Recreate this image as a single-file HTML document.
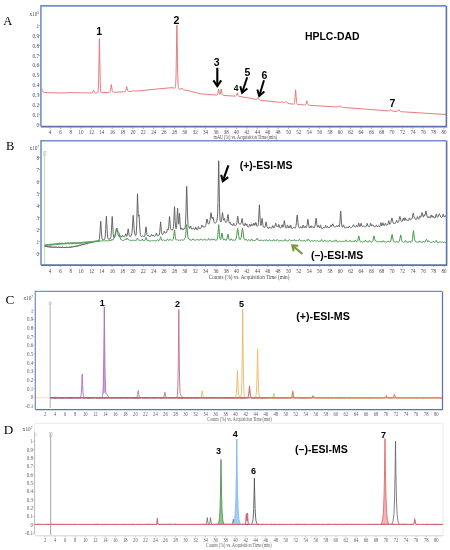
<!DOCTYPE html>
<html><head><meta charset="utf-8"><style>
html,body{margin:0;padding:0;background:#fff;}
body{width:450px;height:550px;overflow:hidden;font-family:"Liberation Sans",sans-serif;}
svg{display:block;filter:blur(0.3px);}
</style></head><body>
<svg width="450" height="550" viewBox="0 0 450 550">
<rect width="450" height="550" fill="#fff"/>
<text x="3.3" y="24.6" font-family="'Liberation Serif', serif" font-size="12.5" font-weight="normal" fill="#000" text-anchor="start">A</text>
<text x="39" y="15.6" font-family="'Liberation Serif', serif" font-size="5.2" fill="#4a4a4a" text-anchor="end">x10<tspan dy="-2" font-size="3.5">3</tspan></text>
<text x="39.1" y="27.9" font-family="'Liberation Serif', serif" font-size="5.8" font-weight="normal" fill="#4a4a4a" text-anchor="end" textLength="2.65" lengthAdjust="spacingAndGlyphs">1</text>
<line x1="38.8" y1="25.7" x2="40" y2="25.7" stroke="#888" stroke-width="0.6"/>
<text x="39.1" y="37.78" font-family="'Liberation Serif', serif" font-size="5.8" font-weight="normal" fill="#4a4a4a" text-anchor="end" textLength="6.62" lengthAdjust="spacingAndGlyphs">0.9</text>
<line x1="38.8" y1="35.6" x2="40" y2="35.6" stroke="#888" stroke-width="0.6"/>
<text x="39.1" y="47.66" font-family="'Liberation Serif', serif" font-size="5.8" font-weight="normal" fill="#4a4a4a" text-anchor="end" textLength="6.62" lengthAdjust="spacingAndGlyphs">0.8</text>
<line x1="38.8" y1="45.5" x2="40" y2="45.5" stroke="#888" stroke-width="0.6"/>
<text x="39.1" y="57.54" font-family="'Liberation Serif', serif" font-size="5.8" font-weight="normal" fill="#4a4a4a" text-anchor="end" textLength="6.62" lengthAdjust="spacingAndGlyphs">0.7</text>
<line x1="38.8" y1="55.3" x2="40" y2="55.3" stroke="#888" stroke-width="0.6"/>
<text x="39.1" y="67.42" font-family="'Liberation Serif', serif" font-size="5.8" font-weight="normal" fill="#4a4a4a" text-anchor="end" textLength="6.62" lengthAdjust="spacingAndGlyphs">0.6</text>
<line x1="38.8" y1="65.2" x2="40" y2="65.2" stroke="#888" stroke-width="0.6"/>
<text x="39.1" y="77.3" font-family="'Liberation Serif', serif" font-size="5.8" font-weight="normal" fill="#4a4a4a" text-anchor="end" textLength="6.62" lengthAdjust="spacingAndGlyphs">0.5</text>
<line x1="38.8" y1="75.1" x2="40" y2="75.1" stroke="#888" stroke-width="0.6"/>
<text x="39.1" y="87.18" font-family="'Liberation Serif', serif" font-size="5.8" font-weight="normal" fill="#4a4a4a" text-anchor="end" textLength="6.62" lengthAdjust="spacingAndGlyphs">0.4</text>
<line x1="38.8" y1="85.0" x2="40" y2="85.0" stroke="#888" stroke-width="0.6"/>
<text x="39.1" y="97.06" font-family="'Liberation Serif', serif" font-size="5.8" font-weight="normal" fill="#4a4a4a" text-anchor="end" textLength="6.62" lengthAdjust="spacingAndGlyphs">0.3</text>
<line x1="38.8" y1="94.9" x2="40" y2="94.9" stroke="#888" stroke-width="0.6"/>
<text x="39.1" y="106.94" font-family="'Liberation Serif', serif" font-size="5.8" font-weight="normal" fill="#4a4a4a" text-anchor="end" textLength="6.62" lengthAdjust="spacingAndGlyphs">0.2</text>
<line x1="38.8" y1="104.7" x2="40" y2="104.7" stroke="#888" stroke-width="0.6"/>
<text x="39.1" y="116.82" font-family="'Liberation Serif', serif" font-size="5.8" font-weight="normal" fill="#4a4a4a" text-anchor="end" textLength="6.62" lengthAdjust="spacingAndGlyphs">0.1</text>
<line x1="38.8" y1="114.6" x2="40" y2="114.6" stroke="#888" stroke-width="0.6"/>
<text x="39.1" y="126.7" font-family="'Liberation Serif', serif" font-size="5.8" font-weight="normal" fill="#4a4a4a" text-anchor="end" textLength="2.65" lengthAdjust="spacingAndGlyphs">0</text>
<line x1="38.8" y1="124.5" x2="40" y2="124.5" stroke="#888" stroke-width="0.6"/>
<text x="50.0" y="134.3" font-family="'Liberation Serif', serif" font-size="6.6" font-weight="normal" fill="#4a4a4a" text-anchor="middle" textLength="2.50" lengthAdjust="spacingAndGlyphs">4</text>
<line x1="50.0" y1="127.5" x2="50.0" y2="129" stroke="#888" stroke-width="0.6"/>
<text x="60.4" y="134.3" font-family="'Liberation Serif', serif" font-size="6.6" font-weight="normal" fill="#4a4a4a" text-anchor="middle" textLength="2.50" lengthAdjust="spacingAndGlyphs">6</text>
<line x1="60.4" y1="127.5" x2="60.4" y2="129" stroke="#888" stroke-width="0.6"/>
<text x="70.7" y="134.3" font-family="'Liberation Serif', serif" font-size="6.6" font-weight="normal" fill="#4a4a4a" text-anchor="middle" textLength="2.50" lengthAdjust="spacingAndGlyphs">8</text>
<line x1="70.7" y1="127.5" x2="70.7" y2="129" stroke="#888" stroke-width="0.6"/>
<text x="81.1" y="134.3" font-family="'Liberation Serif', serif" font-size="6.6" font-weight="normal" fill="#4a4a4a" text-anchor="middle" textLength="5.00" lengthAdjust="spacingAndGlyphs">10</text>
<line x1="81.1" y1="127.5" x2="81.1" y2="129" stroke="#888" stroke-width="0.6"/>
<text x="91.5" y="134.3" font-family="'Liberation Serif', serif" font-size="6.6" font-weight="normal" fill="#4a4a4a" text-anchor="middle" textLength="5.00" lengthAdjust="spacingAndGlyphs">12</text>
<line x1="91.5" y1="127.5" x2="91.5" y2="129" stroke="#888" stroke-width="0.6"/>
<text x="101.8" y="134.3" font-family="'Liberation Serif', serif" font-size="6.6" font-weight="normal" fill="#4a4a4a" text-anchor="middle" textLength="5.00" lengthAdjust="spacingAndGlyphs">14</text>
<line x1="101.8" y1="127.5" x2="101.8" y2="129" stroke="#888" stroke-width="0.6"/>
<text x="112.2" y="134.3" font-family="'Liberation Serif', serif" font-size="6.6" font-weight="normal" fill="#4a4a4a" text-anchor="middle" textLength="5.00" lengthAdjust="spacingAndGlyphs">16</text>
<line x1="112.2" y1="127.5" x2="112.2" y2="129" stroke="#888" stroke-width="0.6"/>
<text x="122.6" y="134.3" font-family="'Liberation Serif', serif" font-size="6.6" font-weight="normal" fill="#4a4a4a" text-anchor="middle" textLength="5.00" lengthAdjust="spacingAndGlyphs">18</text>
<line x1="122.6" y1="127.5" x2="122.6" y2="129" stroke="#888" stroke-width="0.6"/>
<text x="132.9" y="134.3" font-family="'Liberation Serif', serif" font-size="6.6" font-weight="normal" fill="#4a4a4a" text-anchor="middle" textLength="5.00" lengthAdjust="spacingAndGlyphs">20</text>
<line x1="132.9" y1="127.5" x2="132.9" y2="129" stroke="#888" stroke-width="0.6"/>
<text x="143.3" y="134.3" font-family="'Liberation Serif', serif" font-size="6.6" font-weight="normal" fill="#4a4a4a" text-anchor="middle" textLength="5.00" lengthAdjust="spacingAndGlyphs">22</text>
<line x1="143.3" y1="127.5" x2="143.3" y2="129" stroke="#888" stroke-width="0.6"/>
<text x="153.7" y="134.3" font-family="'Liberation Serif', serif" font-size="6.6" font-weight="normal" fill="#4a4a4a" text-anchor="middle" textLength="5.00" lengthAdjust="spacingAndGlyphs">24</text>
<line x1="153.7" y1="127.5" x2="153.7" y2="129" stroke="#888" stroke-width="0.6"/>
<text x="164.0" y="134.3" font-family="'Liberation Serif', serif" font-size="6.6" font-weight="normal" fill="#4a4a4a" text-anchor="middle" textLength="5.00" lengthAdjust="spacingAndGlyphs">26</text>
<line x1="164.0" y1="127.5" x2="164.0" y2="129" stroke="#888" stroke-width="0.6"/>
<text x="174.4" y="134.3" font-family="'Liberation Serif', serif" font-size="6.6" font-weight="normal" fill="#4a4a4a" text-anchor="middle" textLength="5.00" lengthAdjust="spacingAndGlyphs">28</text>
<line x1="174.4" y1="127.5" x2="174.4" y2="129" stroke="#888" stroke-width="0.6"/>
<text x="184.8" y="134.3" font-family="'Liberation Serif', serif" font-size="6.6" font-weight="normal" fill="#4a4a4a" text-anchor="middle" textLength="5.00" lengthAdjust="spacingAndGlyphs">30</text>
<line x1="184.8" y1="127.5" x2="184.8" y2="129" stroke="#888" stroke-width="0.6"/>
<text x="195.2" y="134.3" font-family="'Liberation Serif', serif" font-size="6.6" font-weight="normal" fill="#4a4a4a" text-anchor="middle" textLength="5.00" lengthAdjust="spacingAndGlyphs">32</text>
<line x1="195.2" y1="127.5" x2="195.2" y2="129" stroke="#888" stroke-width="0.6"/>
<text x="205.5" y="134.3" font-family="'Liberation Serif', serif" font-size="6.6" font-weight="normal" fill="#4a4a4a" text-anchor="middle" textLength="5.00" lengthAdjust="spacingAndGlyphs">34</text>
<line x1="205.5" y1="127.5" x2="205.5" y2="129" stroke="#888" stroke-width="0.6"/>
<text x="215.9" y="134.3" font-family="'Liberation Serif', serif" font-size="6.6" font-weight="normal" fill="#4a4a4a" text-anchor="middle" textLength="5.00" lengthAdjust="spacingAndGlyphs">36</text>
<line x1="215.9" y1="127.5" x2="215.9" y2="129" stroke="#888" stroke-width="0.6"/>
<text x="226.3" y="134.3" font-family="'Liberation Serif', serif" font-size="6.6" font-weight="normal" fill="#4a4a4a" text-anchor="middle" textLength="5.00" lengthAdjust="spacingAndGlyphs">38</text>
<line x1="226.3" y1="127.5" x2="226.3" y2="129" stroke="#888" stroke-width="0.6"/>
<text x="236.6" y="134.3" font-family="'Liberation Serif', serif" font-size="6.6" font-weight="normal" fill="#4a4a4a" text-anchor="middle" textLength="5.00" lengthAdjust="spacingAndGlyphs">40</text>
<line x1="236.6" y1="127.5" x2="236.6" y2="129" stroke="#888" stroke-width="0.6"/>
<text x="247.0" y="134.3" font-family="'Liberation Serif', serif" font-size="6.6" font-weight="normal" fill="#4a4a4a" text-anchor="middle" textLength="5.00" lengthAdjust="spacingAndGlyphs">42</text>
<line x1="247.0" y1="127.5" x2="247.0" y2="129" stroke="#888" stroke-width="0.6"/>
<text x="257.4" y="134.3" font-family="'Liberation Serif', serif" font-size="6.6" font-weight="normal" fill="#4a4a4a" text-anchor="middle" textLength="5.00" lengthAdjust="spacingAndGlyphs">44</text>
<line x1="257.4" y1="127.5" x2="257.4" y2="129" stroke="#888" stroke-width="0.6"/>
<text x="267.7" y="134.3" font-family="'Liberation Serif', serif" font-size="6.6" font-weight="normal" fill="#4a4a4a" text-anchor="middle" textLength="5.00" lengthAdjust="spacingAndGlyphs">46</text>
<line x1="267.7" y1="127.5" x2="267.7" y2="129" stroke="#888" stroke-width="0.6"/>
<text x="278.1" y="134.3" font-family="'Liberation Serif', serif" font-size="6.6" font-weight="normal" fill="#4a4a4a" text-anchor="middle" textLength="5.00" lengthAdjust="spacingAndGlyphs">48</text>
<line x1="278.1" y1="127.5" x2="278.1" y2="129" stroke="#888" stroke-width="0.6"/>
<text x="288.5" y="134.3" font-family="'Liberation Serif', serif" font-size="6.6" font-weight="normal" fill="#4a4a4a" text-anchor="middle" textLength="5.00" lengthAdjust="spacingAndGlyphs">50</text>
<line x1="288.5" y1="127.5" x2="288.5" y2="129" stroke="#888" stroke-width="0.6"/>
<text x="298.8" y="134.3" font-family="'Liberation Serif', serif" font-size="6.6" font-weight="normal" fill="#4a4a4a" text-anchor="middle" textLength="5.00" lengthAdjust="spacingAndGlyphs">52</text>
<line x1="298.8" y1="127.5" x2="298.8" y2="129" stroke="#888" stroke-width="0.6"/>
<text x="309.2" y="134.3" font-family="'Liberation Serif', serif" font-size="6.6" font-weight="normal" fill="#4a4a4a" text-anchor="middle" textLength="5.00" lengthAdjust="spacingAndGlyphs">54</text>
<line x1="309.2" y1="127.5" x2="309.2" y2="129" stroke="#888" stroke-width="0.6"/>
<text x="319.6" y="134.3" font-family="'Liberation Serif', serif" font-size="6.6" font-weight="normal" fill="#4a4a4a" text-anchor="middle" textLength="5.00" lengthAdjust="spacingAndGlyphs">56</text>
<line x1="319.6" y1="127.5" x2="319.6" y2="129" stroke="#888" stroke-width="0.6"/>
<text x="329.9" y="134.3" font-family="'Liberation Serif', serif" font-size="6.6" font-weight="normal" fill="#4a4a4a" text-anchor="middle" textLength="5.00" lengthAdjust="spacingAndGlyphs">58</text>
<line x1="329.9" y1="127.5" x2="329.9" y2="129" stroke="#888" stroke-width="0.6"/>
<text x="340.3" y="134.3" font-family="'Liberation Serif', serif" font-size="6.6" font-weight="normal" fill="#4a4a4a" text-anchor="middle" textLength="5.00" lengthAdjust="spacingAndGlyphs">60</text>
<line x1="340.3" y1="127.5" x2="340.3" y2="129" stroke="#888" stroke-width="0.6"/>
<text x="350.7" y="134.3" font-family="'Liberation Serif', serif" font-size="6.6" font-weight="normal" fill="#4a4a4a" text-anchor="middle" textLength="5.00" lengthAdjust="spacingAndGlyphs">62</text>
<line x1="350.7" y1="127.5" x2="350.7" y2="129" stroke="#888" stroke-width="0.6"/>
<text x="361.0" y="134.3" font-family="'Liberation Serif', serif" font-size="6.6" font-weight="normal" fill="#4a4a4a" text-anchor="middle" textLength="5.00" lengthAdjust="spacingAndGlyphs">64</text>
<line x1="361.0" y1="127.5" x2="361.0" y2="129" stroke="#888" stroke-width="0.6"/>
<text x="371.4" y="134.3" font-family="'Liberation Serif', serif" font-size="6.6" font-weight="normal" fill="#4a4a4a" text-anchor="middle" textLength="5.00" lengthAdjust="spacingAndGlyphs">66</text>
<line x1="371.4" y1="127.5" x2="371.4" y2="129" stroke="#888" stroke-width="0.6"/>
<text x="381.8" y="134.3" font-family="'Liberation Serif', serif" font-size="6.6" font-weight="normal" fill="#4a4a4a" text-anchor="middle" textLength="5.00" lengthAdjust="spacingAndGlyphs">68</text>
<line x1="381.8" y1="127.5" x2="381.8" y2="129" stroke="#888" stroke-width="0.6"/>
<text x="392.1" y="134.3" font-family="'Liberation Serif', serif" font-size="6.6" font-weight="normal" fill="#4a4a4a" text-anchor="middle" textLength="5.00" lengthAdjust="spacingAndGlyphs">70</text>
<line x1="392.1" y1="127.5" x2="392.1" y2="129" stroke="#888" stroke-width="0.6"/>
<text x="402.5" y="134.3" font-family="'Liberation Serif', serif" font-size="6.6" font-weight="normal" fill="#4a4a4a" text-anchor="middle" textLength="5.00" lengthAdjust="spacingAndGlyphs">72</text>
<line x1="402.5" y1="127.5" x2="402.5" y2="129" stroke="#888" stroke-width="0.6"/>
<text x="412.9" y="134.3" font-family="'Liberation Serif', serif" font-size="6.6" font-weight="normal" fill="#4a4a4a" text-anchor="middle" textLength="5.00" lengthAdjust="spacingAndGlyphs">74</text>
<line x1="412.9" y1="127.5" x2="412.9" y2="129" stroke="#888" stroke-width="0.6"/>
<text x="423.2" y="134.3" font-family="'Liberation Serif', serif" font-size="6.6" font-weight="normal" fill="#4a4a4a" text-anchor="middle" textLength="5.00" lengthAdjust="spacingAndGlyphs">76</text>
<line x1="423.2" y1="127.5" x2="423.2" y2="129" stroke="#888" stroke-width="0.6"/>
<text x="433.6" y="134.3" font-family="'Liberation Serif', serif" font-size="6.6" font-weight="normal" fill="#4a4a4a" text-anchor="middle" textLength="5.00" lengthAdjust="spacingAndGlyphs">78</text>
<line x1="433.6" y1="127.5" x2="433.6" y2="129" stroke="#888" stroke-width="0.6"/>
<text x="444.0" y="134.3" font-family="'Liberation Serif', serif" font-size="6.6" font-weight="normal" fill="#4a4a4a" text-anchor="middle" textLength="5.00" lengthAdjust="spacingAndGlyphs">80</text>
<line x1="444.0" y1="127.5" x2="444.0" y2="129" stroke="#888" stroke-width="0.6"/>
<text x="213.6" y="138.5" font-family="'Liberation Serif', serif" font-size="6.0" font-weight="normal" fill="#4a4a4a" text-anchor="start" textLength="63.4" lengthAdjust="spacingAndGlyphs">mAU (%) vs. Acquisition Time (min)</text>
<path d="M41.50,88.61 L41.60,88.50 L41.75,88.80 L42.25,90.56 L42.75,91.65 L43.25,92.06 L45,92.60 L60,93 L70,92.60 L90,93 L91.25,92.96 L92,92.83 L92.50,92.46 L93.60,90.20 L94.50,92.12 L95,92.65 L95.50,92.80 L96,92.81 L97,92.78 L97.50,92.65 L97.75,92.33 L98,91.43 L98.25,89.14 L98.50,84.05 L98.75,74.46 L99.40,38.50 L100.25,82.49 L100.50,88.33 L100.75,91.04 L101,92.12 L101.25,92.49 L101.50,92.60 L102,92.63 L108.50,92.40 L109.25,92.35 L109.75,92.15 L110,91.84 L110.25,91.22 L110.50,90.11 L111.30,84.50 L112.25,90.78 L112.50,91.56 L112.75,91.95 L113,92.13 L113.50,92.21 L120,92 L124.25,91.74 L125,91.62 L125.50,91.21 L125.75,90.68 L126.70,86.50 L127.50,90.10 L127.75,90.80 L128,91.19 L128.25,91.37 L128.75,91.46 L131.75,91.25 L132.50,91.03 L133.50,90.50 L134.50,90.91 L135.25,91.04 L140,90.80 L160,88.70 L172,87.70 L174.50,88.22 L175,88.11 L175.25,87.67 L175.50,86.40 L175.75,83.32 L176,76.87 L176.90,25.20 L177.50,62.65 L177.75,75.38 L178,82.83 L178.25,86.54 L178.50,88.16 L178.75,88.80 L179,89.04 L179.25,89.12 L180.25,89.10 L182,88.50 L183.50,89.54 L184.50,89.99 L190,91 L200,93.80 L216.50,95.07 L217,94.98 L217.25,94.79 L217.50,94.37 L217.75,93.60 L218.60,89 L219.50,93.80 L219.75,94.36 L220,94.42 L220.25,93.97 L220.50,92.97 L221.20,89 L222,93.59 L222.25,94.50 L222.50,95.01 L222.75,95.27 L223.25,95.44 L234.75,96.12 L235.75,96.08 L236.25,95.70 L236.50,95.23 L237.30,92.80 L238.25,95.67 L238.75,96.28 L239.25,96.47 L248,97.80 L255.50,99.40 L256,99.41 L256.50,99.27 L257,98.87 L257.75,97.95 L258,97.80 L259.50,99.76 L260,100.07 L260.50,100.23 L278.75,102.26 L280.50,102.31 L282,101.80 L283.25,102.57 L283.75,102.73 L284.25,102.71 L284.75,102.49 L285.75,101.44 L286,101.30 L286.25,101.51 L287.25,102.83 L288,103.34 L289.25,103.63 L293.50,104.16 L294,103.94 L294.25,103.49 L294.50,102.52 L294.75,100.70 L295.60,89.80 L296.50,101.28 L296.75,102.96 L297,103.85 L297.25,104.27 L297.75,104.54 L304.25,104.97 L305.25,104.89 L305.75,104.42 L306,103.88 L306.75,101.10 L306.90,100.80 L307.75,103.84 L308,104.47 L308.50,105.07 L309.25,105.28 L337,106.99 L337.75,106.96 L338.50,106.75 L340,105.80 L341.75,107.09 L342.50,107.33 L343.25,107.43 L388.25,110.86 L389,110.84 L389.50,110.70 L390.80,109.60 L391.75,110.60 L392.50,111.05 L393.25,111.19 L396,111.37 L397,111.33 L397.50,111.12 L398.80,109.60 L400,111.20 L400.50,111.52 L401.25,111.69 L446,114.50" fill="none" stroke="#e87474" stroke-width="0.95"/>
<path d="M446.4,5.9 L446.4,126.6 L40.9,126.6" fill="none" stroke="#5e72aa" stroke-width="1.6"/>
<path d="M40.9,126.6 L40.9,5.9 L446.4,5.9" fill="none" stroke="#7490cc" stroke-width="1.6"/>
<text x="99.1" y="34.6" font-family="'Liberation Sans', sans-serif" font-size="10.5" font-weight="bold" fill="#000" text-anchor="middle">1</text>
<text x="176.3" y="23.8" font-family="'Liberation Sans', sans-serif" font-size="10.5" font-weight="bold" fill="#000" text-anchor="middle">2</text>
<text x="216.7" y="65.8" font-family="'Liberation Sans', sans-serif" font-size="10.5" font-weight="bold" fill="#000" text-anchor="middle">3</text>
<text x="236.1" y="91.0" font-family="'Liberation Sans', sans-serif" font-size="8.5" font-weight="bold" fill="#000" text-anchor="middle">4</text>
<text x="247.4" y="76.2" font-family="'Liberation Sans', sans-serif" font-size="10.5" font-weight="bold" fill="#000" text-anchor="middle">5</text>
<text x="264.5" y="78.8" font-family="'Liberation Sans', sans-serif" font-size="10.5" font-weight="bold" fill="#000" text-anchor="middle">6</text>
<text x="392.4" y="106.8" font-family="'Liberation Sans', sans-serif" font-size="10.5" font-weight="bold" fill="#000" text-anchor="middle">7</text>
<line x1="217.30" y1="67.80" x2="217.30" y2="86.11" stroke="#000" stroke-width="2.1"/>
<path d="M213.40,80.40 L217.30,86.11 L221.20,80.40" fill="none" stroke="#000" stroke-width="2.1" stroke-linejoin="miter" stroke-miterlimit="10"/>
<line x1="247.20" y1="77.20" x2="242.06" y2="92.79" stroke="#000" stroke-width="2.0"/>
<path d="M240.33,86.22 L242.06,92.79 L247.36,88.53" fill="none" stroke="#000" stroke-width="2.0" stroke-linejoin="miter" stroke-miterlimit="10"/>
<line x1="264.00" y1="80.30" x2="259.22" y2="95.98" stroke="#000" stroke-width="2.0"/>
<path d="M257.35,89.45 L259.22,95.98 L264.42,91.60" fill="none" stroke="#000" stroke-width="2.0" stroke-linejoin="miter" stroke-miterlimit="10"/>
<text x="305.0" y="40.3" font-family="'Liberation Sans', sans-serif" font-size="11.8" font-weight="bold" fill="#000" text-anchor="start" textLength="54.5" lengthAdjust="spacingAndGlyphs">HPLC-DAD</text>
<text x="6.0" y="150.3" font-family="'Liberation Serif', serif" font-size="12.5" font-weight="normal" fill="#000" text-anchor="start">B</text>
<text x="39" y="150" font-family="'Liberation Serif', serif" font-size="5.2" fill="#4a4a4a" text-anchor="end">x10<tspan dy="-2" font-size="3.5">7</tspan></text>
<text x="39.1" y="159.7" font-family="'Liberation Serif', serif" font-size="5.8" font-weight="normal" fill="#4a4a4a" text-anchor="end" textLength="2.65" lengthAdjust="spacingAndGlyphs">8</text>
<line x1="38.8" y1="157.5" x2="40" y2="157.5" stroke="#888" stroke-width="0.6"/>
<text x="39.1" y="171.7" font-family="'Liberation Serif', serif" font-size="5.8" font-weight="normal" fill="#4a4a4a" text-anchor="end" textLength="2.65" lengthAdjust="spacingAndGlyphs">7</text>
<line x1="38.8" y1="169.5" x2="40" y2="169.5" stroke="#888" stroke-width="0.6"/>
<text x="39.1" y="183.7" font-family="'Liberation Serif', serif" font-size="5.8" font-weight="normal" fill="#4a4a4a" text-anchor="end" textLength="2.65" lengthAdjust="spacingAndGlyphs">6</text>
<line x1="38.8" y1="181.5" x2="40" y2="181.5" stroke="#888" stroke-width="0.6"/>
<text x="39.1" y="195.7" font-family="'Liberation Serif', serif" font-size="5.8" font-weight="normal" fill="#4a4a4a" text-anchor="end" textLength="2.65" lengthAdjust="spacingAndGlyphs">5</text>
<line x1="38.8" y1="193.5" x2="40" y2="193.5" stroke="#888" stroke-width="0.6"/>
<text x="39.1" y="207.7" font-family="'Liberation Serif', serif" font-size="5.8" font-weight="normal" fill="#4a4a4a" text-anchor="end" textLength="2.65" lengthAdjust="spacingAndGlyphs">4</text>
<line x1="38.8" y1="205.5" x2="40" y2="205.5" stroke="#888" stroke-width="0.6"/>
<text x="39.1" y="219.7" font-family="'Liberation Serif', serif" font-size="5.8" font-weight="normal" fill="#4a4a4a" text-anchor="end" textLength="2.65" lengthAdjust="spacingAndGlyphs">3</text>
<line x1="38.8" y1="217.5" x2="40" y2="217.5" stroke="#888" stroke-width="0.6"/>
<text x="39.1" y="231.7" font-family="'Liberation Serif', serif" font-size="5.8" font-weight="normal" fill="#4a4a4a" text-anchor="end" textLength="2.65" lengthAdjust="spacingAndGlyphs">2</text>
<line x1="38.8" y1="229.5" x2="40" y2="229.5" stroke="#888" stroke-width="0.6"/>
<text x="39.1" y="243.7" font-family="'Liberation Serif', serif" font-size="5.8" font-weight="normal" fill="#4a4a4a" text-anchor="end" textLength="2.65" lengthAdjust="spacingAndGlyphs">1</text>
<line x1="38.8" y1="241.5" x2="40" y2="241.5" stroke="#888" stroke-width="0.6"/>
<text x="39.1" y="255.7" font-family="'Liberation Serif', serif" font-size="5.8" font-weight="normal" fill="#4a4a4a" text-anchor="end" textLength="2.65" lengthAdjust="spacingAndGlyphs">0</text>
<line x1="38.8" y1="253.5" x2="40" y2="253.5" stroke="#888" stroke-width="0.6"/>
<text x="50.0" y="273.4" font-family="'Liberation Serif', serif" font-size="6.6" font-weight="normal" fill="#4a4a4a" text-anchor="middle" textLength="2.50" lengthAdjust="spacingAndGlyphs">4</text>
<line x1="50.0" y1="265.5" x2="50.0" y2="267" stroke="#888" stroke-width="0.6"/>
<text x="60.4" y="273.4" font-family="'Liberation Serif', serif" font-size="6.6" font-weight="normal" fill="#4a4a4a" text-anchor="middle" textLength="2.50" lengthAdjust="spacingAndGlyphs">6</text>
<line x1="60.4" y1="265.5" x2="60.4" y2="267" stroke="#888" stroke-width="0.6"/>
<text x="70.7" y="273.4" font-family="'Liberation Serif', serif" font-size="6.6" font-weight="normal" fill="#4a4a4a" text-anchor="middle" textLength="2.50" lengthAdjust="spacingAndGlyphs">8</text>
<line x1="70.7" y1="265.5" x2="70.7" y2="267" stroke="#888" stroke-width="0.6"/>
<text x="81.1" y="273.4" font-family="'Liberation Serif', serif" font-size="6.6" font-weight="normal" fill="#4a4a4a" text-anchor="middle" textLength="5.00" lengthAdjust="spacingAndGlyphs">10</text>
<line x1="81.1" y1="265.5" x2="81.1" y2="267" stroke="#888" stroke-width="0.6"/>
<text x="91.5" y="273.4" font-family="'Liberation Serif', serif" font-size="6.6" font-weight="normal" fill="#4a4a4a" text-anchor="middle" textLength="5.00" lengthAdjust="spacingAndGlyphs">12</text>
<line x1="91.5" y1="265.5" x2="91.5" y2="267" stroke="#888" stroke-width="0.6"/>
<text x="101.8" y="273.4" font-family="'Liberation Serif', serif" font-size="6.6" font-weight="normal" fill="#4a4a4a" text-anchor="middle" textLength="5.00" lengthAdjust="spacingAndGlyphs">14</text>
<line x1="101.8" y1="265.5" x2="101.8" y2="267" stroke="#888" stroke-width="0.6"/>
<text x="112.2" y="273.4" font-family="'Liberation Serif', serif" font-size="6.6" font-weight="normal" fill="#4a4a4a" text-anchor="middle" textLength="5.00" lengthAdjust="spacingAndGlyphs">16</text>
<line x1="112.2" y1="265.5" x2="112.2" y2="267" stroke="#888" stroke-width="0.6"/>
<text x="122.6" y="273.4" font-family="'Liberation Serif', serif" font-size="6.6" font-weight="normal" fill="#4a4a4a" text-anchor="middle" textLength="5.00" lengthAdjust="spacingAndGlyphs">18</text>
<line x1="122.6" y1="265.5" x2="122.6" y2="267" stroke="#888" stroke-width="0.6"/>
<text x="132.9" y="273.4" font-family="'Liberation Serif', serif" font-size="6.6" font-weight="normal" fill="#4a4a4a" text-anchor="middle" textLength="5.00" lengthAdjust="spacingAndGlyphs">20</text>
<line x1="132.9" y1="265.5" x2="132.9" y2="267" stroke="#888" stroke-width="0.6"/>
<text x="143.3" y="273.4" font-family="'Liberation Serif', serif" font-size="6.6" font-weight="normal" fill="#4a4a4a" text-anchor="middle" textLength="5.00" lengthAdjust="spacingAndGlyphs">22</text>
<line x1="143.3" y1="265.5" x2="143.3" y2="267" stroke="#888" stroke-width="0.6"/>
<text x="153.7" y="273.4" font-family="'Liberation Serif', serif" font-size="6.6" font-weight="normal" fill="#4a4a4a" text-anchor="middle" textLength="5.00" lengthAdjust="spacingAndGlyphs">24</text>
<line x1="153.7" y1="265.5" x2="153.7" y2="267" stroke="#888" stroke-width="0.6"/>
<text x="164.0" y="273.4" font-family="'Liberation Serif', serif" font-size="6.6" font-weight="normal" fill="#4a4a4a" text-anchor="middle" textLength="5.00" lengthAdjust="spacingAndGlyphs">26</text>
<line x1="164.0" y1="265.5" x2="164.0" y2="267" stroke="#888" stroke-width="0.6"/>
<text x="174.4" y="273.4" font-family="'Liberation Serif', serif" font-size="6.6" font-weight="normal" fill="#4a4a4a" text-anchor="middle" textLength="5.00" lengthAdjust="spacingAndGlyphs">28</text>
<line x1="174.4" y1="265.5" x2="174.4" y2="267" stroke="#888" stroke-width="0.6"/>
<text x="184.8" y="273.4" font-family="'Liberation Serif', serif" font-size="6.6" font-weight="normal" fill="#4a4a4a" text-anchor="middle" textLength="5.00" lengthAdjust="spacingAndGlyphs">30</text>
<line x1="184.8" y1="265.5" x2="184.8" y2="267" stroke="#888" stroke-width="0.6"/>
<text x="195.2" y="273.4" font-family="'Liberation Serif', serif" font-size="6.6" font-weight="normal" fill="#4a4a4a" text-anchor="middle" textLength="5.00" lengthAdjust="spacingAndGlyphs">32</text>
<line x1="195.2" y1="265.5" x2="195.2" y2="267" stroke="#888" stroke-width="0.6"/>
<text x="205.5" y="273.4" font-family="'Liberation Serif', serif" font-size="6.6" font-weight="normal" fill="#4a4a4a" text-anchor="middle" textLength="5.00" lengthAdjust="spacingAndGlyphs">34</text>
<line x1="205.5" y1="265.5" x2="205.5" y2="267" stroke="#888" stroke-width="0.6"/>
<text x="215.9" y="273.4" font-family="'Liberation Serif', serif" font-size="6.6" font-weight="normal" fill="#4a4a4a" text-anchor="middle" textLength="5.00" lengthAdjust="spacingAndGlyphs">36</text>
<line x1="215.9" y1="265.5" x2="215.9" y2="267" stroke="#888" stroke-width="0.6"/>
<text x="226.3" y="273.4" font-family="'Liberation Serif', serif" font-size="6.6" font-weight="normal" fill="#4a4a4a" text-anchor="middle" textLength="5.00" lengthAdjust="spacingAndGlyphs">38</text>
<line x1="226.3" y1="265.5" x2="226.3" y2="267" stroke="#888" stroke-width="0.6"/>
<text x="236.6" y="273.4" font-family="'Liberation Serif', serif" font-size="6.6" font-weight="normal" fill="#4a4a4a" text-anchor="middle" textLength="5.00" lengthAdjust="spacingAndGlyphs">40</text>
<line x1="236.6" y1="265.5" x2="236.6" y2="267" stroke="#888" stroke-width="0.6"/>
<text x="247.0" y="273.4" font-family="'Liberation Serif', serif" font-size="6.6" font-weight="normal" fill="#4a4a4a" text-anchor="middle" textLength="5.00" lengthAdjust="spacingAndGlyphs">42</text>
<line x1="247.0" y1="265.5" x2="247.0" y2="267" stroke="#888" stroke-width="0.6"/>
<text x="257.4" y="273.4" font-family="'Liberation Serif', serif" font-size="6.6" font-weight="normal" fill="#4a4a4a" text-anchor="middle" textLength="5.00" lengthAdjust="spacingAndGlyphs">44</text>
<line x1="257.4" y1="265.5" x2="257.4" y2="267" stroke="#888" stroke-width="0.6"/>
<text x="267.7" y="273.4" font-family="'Liberation Serif', serif" font-size="6.6" font-weight="normal" fill="#4a4a4a" text-anchor="middle" textLength="5.00" lengthAdjust="spacingAndGlyphs">46</text>
<line x1="267.7" y1="265.5" x2="267.7" y2="267" stroke="#888" stroke-width="0.6"/>
<text x="278.1" y="273.4" font-family="'Liberation Serif', serif" font-size="6.6" font-weight="normal" fill="#4a4a4a" text-anchor="middle" textLength="5.00" lengthAdjust="spacingAndGlyphs">48</text>
<line x1="278.1" y1="265.5" x2="278.1" y2="267" stroke="#888" stroke-width="0.6"/>
<text x="288.5" y="273.4" font-family="'Liberation Serif', serif" font-size="6.6" font-weight="normal" fill="#4a4a4a" text-anchor="middle" textLength="5.00" lengthAdjust="spacingAndGlyphs">50</text>
<line x1="288.5" y1="265.5" x2="288.5" y2="267" stroke="#888" stroke-width="0.6"/>
<text x="298.8" y="273.4" font-family="'Liberation Serif', serif" font-size="6.6" font-weight="normal" fill="#4a4a4a" text-anchor="middle" textLength="5.00" lengthAdjust="spacingAndGlyphs">52</text>
<line x1="298.8" y1="265.5" x2="298.8" y2="267" stroke="#888" stroke-width="0.6"/>
<text x="309.2" y="273.4" font-family="'Liberation Serif', serif" font-size="6.6" font-weight="normal" fill="#4a4a4a" text-anchor="middle" textLength="5.00" lengthAdjust="spacingAndGlyphs">54</text>
<line x1="309.2" y1="265.5" x2="309.2" y2="267" stroke="#888" stroke-width="0.6"/>
<text x="319.6" y="273.4" font-family="'Liberation Serif', serif" font-size="6.6" font-weight="normal" fill="#4a4a4a" text-anchor="middle" textLength="5.00" lengthAdjust="spacingAndGlyphs">56</text>
<line x1="319.6" y1="265.5" x2="319.6" y2="267" stroke="#888" stroke-width="0.6"/>
<text x="329.9" y="273.4" font-family="'Liberation Serif', serif" font-size="6.6" font-weight="normal" fill="#4a4a4a" text-anchor="middle" textLength="5.00" lengthAdjust="spacingAndGlyphs">58</text>
<line x1="329.9" y1="265.5" x2="329.9" y2="267" stroke="#888" stroke-width="0.6"/>
<text x="340.3" y="273.4" font-family="'Liberation Serif', serif" font-size="6.6" font-weight="normal" fill="#4a4a4a" text-anchor="middle" textLength="5.00" lengthAdjust="spacingAndGlyphs">60</text>
<line x1="340.3" y1="265.5" x2="340.3" y2="267" stroke="#888" stroke-width="0.6"/>
<text x="350.7" y="273.4" font-family="'Liberation Serif', serif" font-size="6.6" font-weight="normal" fill="#4a4a4a" text-anchor="middle" textLength="5.00" lengthAdjust="spacingAndGlyphs">62</text>
<line x1="350.7" y1="265.5" x2="350.7" y2="267" stroke="#888" stroke-width="0.6"/>
<text x="361.0" y="273.4" font-family="'Liberation Serif', serif" font-size="6.6" font-weight="normal" fill="#4a4a4a" text-anchor="middle" textLength="5.00" lengthAdjust="spacingAndGlyphs">64</text>
<line x1="361.0" y1="265.5" x2="361.0" y2="267" stroke="#888" stroke-width="0.6"/>
<text x="371.4" y="273.4" font-family="'Liberation Serif', serif" font-size="6.6" font-weight="normal" fill="#4a4a4a" text-anchor="middle" textLength="5.00" lengthAdjust="spacingAndGlyphs">66</text>
<line x1="371.4" y1="265.5" x2="371.4" y2="267" stroke="#888" stroke-width="0.6"/>
<text x="381.8" y="273.4" font-family="'Liberation Serif', serif" font-size="6.6" font-weight="normal" fill="#4a4a4a" text-anchor="middle" textLength="5.00" lengthAdjust="spacingAndGlyphs">68</text>
<line x1="381.8" y1="265.5" x2="381.8" y2="267" stroke="#888" stroke-width="0.6"/>
<text x="392.1" y="273.4" font-family="'Liberation Serif', serif" font-size="6.6" font-weight="normal" fill="#4a4a4a" text-anchor="middle" textLength="5.00" lengthAdjust="spacingAndGlyphs">70</text>
<line x1="392.1" y1="265.5" x2="392.1" y2="267" stroke="#888" stroke-width="0.6"/>
<text x="402.5" y="273.4" font-family="'Liberation Serif', serif" font-size="6.6" font-weight="normal" fill="#4a4a4a" text-anchor="middle" textLength="5.00" lengthAdjust="spacingAndGlyphs">72</text>
<line x1="402.5" y1="265.5" x2="402.5" y2="267" stroke="#888" stroke-width="0.6"/>
<text x="412.9" y="273.4" font-family="'Liberation Serif', serif" font-size="6.6" font-weight="normal" fill="#4a4a4a" text-anchor="middle" textLength="5.00" lengthAdjust="spacingAndGlyphs">74</text>
<line x1="412.9" y1="265.5" x2="412.9" y2="267" stroke="#888" stroke-width="0.6"/>
<text x="423.2" y="273.4" font-family="'Liberation Serif', serif" font-size="6.6" font-weight="normal" fill="#4a4a4a" text-anchor="middle" textLength="5.00" lengthAdjust="spacingAndGlyphs">76</text>
<line x1="423.2" y1="265.5" x2="423.2" y2="267" stroke="#888" stroke-width="0.6"/>
<text x="433.6" y="273.4" font-family="'Liberation Serif', serif" font-size="6.6" font-weight="normal" fill="#4a4a4a" text-anchor="middle" textLength="5.00" lengthAdjust="spacingAndGlyphs">78</text>
<line x1="433.6" y1="265.5" x2="433.6" y2="267" stroke="#888" stroke-width="0.6"/>
<text x="444.0" y="273.4" font-family="'Liberation Serif', serif" font-size="6.6" font-weight="normal" fill="#4a4a4a" text-anchor="middle" textLength="5.00" lengthAdjust="spacingAndGlyphs">80</text>
<line x1="444.0" y1="265.5" x2="444.0" y2="267" stroke="#888" stroke-width="0.6"/>
<text x="208.8" y="278.5" font-family="'Liberation Serif', serif" font-size="6.2" font-weight="normal" fill="#4a4a4a" text-anchor="start" textLength="80.6" lengthAdjust="spacingAndGlyphs">Counts (%) vs. Acquisition Time (min)</text>
<line x1="44.6" y1="152" x2="44.6" y2="264" stroke="#d0d0d0" stroke-width="1.0"/>
<rect x="43.4" y="151.5" width="2.6" height="4" fill="none" stroke="#c8c8c8" stroke-width="0.6"/>
<path d="M44.70,246.17 L44.95,246.36 L45.20,246.30 L45.70,246.49 L45.95,246.25 L46.20,246.25 L46.45,246.70 L46.70,246.44 L46.95,246.46 L47.20,246.88 L47.45,246.65 L47.70,246.86 L47.95,246.72 L48.20,246.83 L48.45,246.62 L48.95,247.05 L49.20,246.91 L49.45,247.05 L49.70,247.05 L49.95,246.78 L50.20,247.13 L50.95,246.79 L51.20,247.21 L51.45,247.03 L51.95,247.24 L52.20,247.17 L52.45,247.28 L52.70,247.02 L52.95,247.23 L53.20,247.06 L53.45,247.31 L53.70,247.29 L53.95,246.90 L54.45,246.98 L54.70,247.36 L54.95,247.10 L55.20,247.20 L55.45,247.05 L55.70,247.16 L56.20,247.09 L56.70,247.22 L56.95,247.39 L57.20,247.28 L57.45,247.41 L57.95,247.46 L58.45,247.06 L58.70,247.41 L58.95,247.47 L59.20,247.45 L59.45,247.29 L59.70,247.37 L59.95,247.12 L60.20,247.44 L60.95,247.07 L61.20,247.48 L61.45,247.55 L61.70,247.11 L61.95,247.47 L62.45,247.16 L62.70,247.24 L62.95,247.48 L63.20,247.54 L63.45,247.13 L63.70,247.42 L63.95,247.14 L64.20,247.49 L64.45,247.30 L64.70,247.58 L64.95,247.64 L65.20,247.39 L65.45,247.62 L65.70,247.26 L65.95,247.13 L66.20,247.38 L66.45,247.08 L67.20,247.33 L67.45,247.09 L67.70,247.02 L67.95,247.42 L68.20,247.12 L68.45,247.43 L68.70,247.39 L68.95,247.11 L69.70,247.20 L70.45,247.15 L70.70,247.29 L70.95,247.06 L71.20,247.01 L71.45,247.14 L71.70,246.89 L71.95,246.90 L72.20,247.20 L72.45,246.92 L72.70,246.88 L72.95,246.57 L73.45,246.75 L73.70,246.42 L73.95,246.67 L74.20,246.63 L74.45,246.29 L74.70,246.52 L74.95,246.39 L75.20,246.45 L75.45,246.24 L75.70,246.36 L75.95,246.33 L76.20,245.92 L76.45,245.89 L76.70,246.15 L76.95,246.24 L77.20,245.84 L77.70,245.91 L77.95,245.72 L78.45,245.59 L78.95,245.60 L79.20,245.39 L79.45,245.37 L79.70,245.50 L79.95,245.06 L80.20,245.27 L80.45,245.29 L80.70,245.01 L80.95,244.90 L81.20,245.13 L81.45,244.78 L81.70,244.69 L82.20,244.82 L82.45,244.46 L82.95,244.44 L83.20,244.63 L83.45,244.37 L83.70,244.51 L83.95,244.10 L84.70,244.27 L84.95,243.99 L85.45,243.69 L85.70,243.83 L85.95,243.60 L86.20,243.84 L86.45,243.80 L86.70,243.40 L86.95,243.39 L87.20,243.59 L87.45,243.44 L87.70,243.46 L88.20,242.99 L88.45,243.01 L88.70,243.20 L88.95,242.87 L89.95,242.68 L90.20,242.87 L90.45,242.43 L90.70,242.29 L90.95,242.69 L91.45,242.58 L91.70,242.24 L91.95,242.44 L92.20,242.37 L92.45,241.97 L92.70,242.18 L92.95,242.18 L93.70,241.75 L94.45,241.49 L94.70,241.70 L94.95,241.50 L95.20,241.72 L95.45,241.28 L95.70,241.66 L95.95,241.51 L96.20,241.57 L96.70,241.46 L97.20,240.89 L97.45,241.17 L97.70,240.80 L98.20,240.85 L98.70,240.40 L98.95,240.31 L99.45,238.13 L99.95,233.12 L100.70,221.13 L100.95,223.90 L101.45,232.94 L101.95,237.98 L102.20,239.15 L102.45,239.65 L102.70,239.90 L102.95,239.58 L103.20,239.92 L103.45,240.02 L103.70,239.59 L103.95,239.65 L104.45,239.49 L104.70,239.02 L104.95,238.21 L105.20,236.77 L105.70,229.57 L106.20,218.76 L106.40,216.18 L107.45,234.86 L107.70,237.03 L107.95,238.24 L108.20,238.98 L108.45,239.20 L108.95,239.12 L109.20,239.18 L109.45,239.05 L109.70,239.23 L109.95,239.22 L110.45,238.39 L110.70,237.73 L110.95,236.46 L111.45,230.53 L112.20,216.46 L112.45,219.73 L113.20,233.78 L113.70,237.22 L113.95,237.59 L114.45,237.44 L114.70,237.07 L115.20,235.38 L115.70,233.19 L116.20,229.99 L116.70,228.15 L116.95,228.50 L117.70,232.66 L118.20,234.87 L118.70,236.08 L118.95,236.50 L119.20,236.67 L119.45,236.58 L119.70,236.87 L119.95,236.51 L120.20,236.40 L120.45,236.43 L120.70,235.85 L120.95,235.93 L121.20,236.20 L121.45,236.86 L121.95,236.48 L122.20,236.58 L122.45,235.71 L122.95,235.53 L123.45,236.56 L123.95,236.91 L124.20,236.55 L124.45,236.89 L124.95,236.50 L125.20,235.53 L125.70,234.18 L125.95,233.81 L126.45,235.75 L126.70,236.29 L127.20,235.19 L127.45,234.02 L128.20,228.85 L129.20,235.22 L129.95,236.64 L130.20,236.40 L130.45,236.52 L130.70,236.04 L130.95,235.92 L131.20,235.40 L131.70,233.89 L131.95,232.58 L132.45,227.06 L132.95,217.73 L133.20,215.32 L133.45,218.14 L134.20,230.27 L134.70,233.27 L135.20,234.92 L135.45,235.42 L135.70,235.61 L135.95,235.38 L136.20,234.01 L136.70,224.81 L137.50,193.78 L138.20,213.35 L138.45,216.21 L138.70,215.85 L139,214.91 L139.95,230.17 L140.20,232.83 L140.45,234.44 L140.70,235.62 L140.95,236.15 L141.70,236.54 L141.95,236.55 L142.20,236.13 L142.95,235.73 L143.20,235.87 L143.70,236.52 L144.20,236.63 L144.45,236.41 L144.95,234.92 L145.20,233.56 L146,226.80 L146.20,227.74 L146.70,232.81 L146.95,234.53 L147.20,235.57 L147.70,235.29 L147.95,235.40 L148.20,235.17 L148.95,236.44 L149.20,236.22 L149.45,236.41 L149.95,236.49 L150.20,236.32 L150.45,236.41 L150.70,236.34 L151.45,234.36 L151.70,234.62 L151.95,235.39 L152.20,235.58 L152.45,236.07 L152.70,235.83 L152.95,235.05 L153.20,235.31 L153.45,235.22 L153.70,235.77 L153.95,236.04 L154.20,235.92 L154.45,236.13 L154.95,236.15 L155.20,235.81 L155.45,235.84 L155.70,235.42 L156.20,233.49 L156.45,233.10 L157.20,235.52 L157.45,235.75 L157.70,235.75 L157.95,235.54 L158.20,235.74 L158.45,235.69 L158.70,235.38 L158.95,235.55 L159.20,235.04 L159.70,232.79 L160.60,221.85 L161.45,231.43 L161.70,232.97 L162.20,234.39 L162.45,234.50 L162.70,234.36 L162.95,234.37 L163.45,233.64 L163.95,232.34 L164.20,231.15 L164.45,231.32 L164.70,231.82 L164.95,232.80 L165.45,233.08 L166.20,232.96 L166.70,232.15 L167.45,229.01 L167.70,229.11 L167.95,229.92 L168.20,229.97 L168.45,228.82 L168.70,226.80 L169.50,216.52 L169.70,218.08 L170.20,224.88 L170.70,228.75 L170.95,229.49 L171.45,229.80 L171.70,230.11 L171.95,229.75 L172.20,230.12 L172.70,229.99 L173.20,228.49 L173.45,226.65 L173.70,223.34 L174.50,206.58 L174.70,209.40 L175.20,221.54 L175.70,227.85 L175.95,228.77 L176.20,228.63 L176.45,227.58 L176.70,225.16 L177.45,209.78 L177.60,208.20 L178.45,223.35 L178.70,224.15 L178.95,221.79 L179.50,213.38 L180.20,225.24 L180.45,227.96 L180.70,229.30 L181.20,229.14 L181.70,227.92 L182.45,229.84 L182.95,230.01 L183.95,228.60 L184.20,228.57 L184.45,229.09 L184.70,229.05 L184.95,228.40 L185.20,227.07 L185.45,224.50 L185.95,212.86 L186.45,193.08 L186.70,186.42 L186.95,192.87 L187.45,212.70 L187.95,224.08 L188.20,225.76 L188.95,226.72 L189.45,228.24 L189.70,228.54 L189.95,228.12 L190.45,226.02 L190.70,226.04 L191.45,228.79 L191.70,228.98 L191.95,229.07 L192.45,229.07 L193.45,227.75 L193.50,227.90 L193.70,227.91 L194.20,228.99 L194.70,229.59 L195.20,229.02 L195.70,227.17 L196.20,227.60 L196.70,229.48 L197.20,229.94 L197.70,229.13 L198.45,226.53 L198.70,226.89 L198.95,227.55 L199.20,228.61 L199.70,228.80 L199.95,228.75 L200.20,228.91 L200.45,228.66 L201.20,227.48 L201.45,226.83 L201.90,225.05 L202.45,226.34 L202.70,226.75 L202.95,226.93 L203.20,227.08 L203.45,226.92 L203.70,226.41 L203.95,226.90 L204.20,226.88 L204.45,227.18 L204.70,227.22 L204.95,227.11 L205.20,226.37 L205.70,225.59 L205.95,224.87 L206.95,218.91 L207.20,219.38 L207.70,222.07 L208.20,223.61 L208.45,223.95 L208.70,224.10 L209.20,223.74 L209.70,222.13 L210.20,219.30 L210.95,212.68 L211.20,213.50 L211.95,218.18 L212.20,218.60 L212.45,218.68 L212.70,217.53 L212.95,217.01 L213.20,217.91 L213.95,221.83 L214.45,222.81 L214.70,223.01 L214.95,222.93 L215.20,223.17 L215.45,223.07 L215.70,222.84 L215.95,222.79 L216.45,222.09 L216.70,221.45 L217.20,218.69 L217.45,216.23 L217.70,211.44 L217.95,202.58 L218.70,160.72 L219.45,202.41 L219.70,212.13 L219.95,217.97 L220.20,220.31 L220.45,221.64 L220.70,221.92 L220.95,222.01 L221.45,220.64 L222.45,212.61 L222.70,213.53 L223.20,218.31 L223.70,220.31 L224.20,218.80 L224.45,218.31 L225.20,221.50 L225.45,222.16 L225.70,222.47 L225.95,222.32 L226.20,222.47 L226.45,222.27 L226.95,221.39 L227.45,218.36 L227.70,215.99 L228,214.48 L228.95,221.72 L229.45,223.26 L229.70,223.15 L229.95,222.46 L230.20,222.31 L230.45,222.73 L231.20,224.96 L231.45,224.59 L231.95,224.33 L232.45,225.09 L232.70,225.67 L232.95,225.32 L233.45,223.66 L233.70,223.21 L234.20,224.61 L234.70,225.63 L235.20,225.59 L235.45,225.28 L235.70,225.33 L235.95,225 L236.20,225.06 L236.45,224.57 L236.95,222.33 L237.45,217.49 L237.70,216.21 L237.95,217.44 L238.45,221.75 L238.95,223.76 L239.45,224.02 L239.70,223.97 L240.20,224.17 L240.95,223.63 L241.20,223.04 L242.10,218.40 L242.95,223.61 L243.45,225.12 L243.95,225.74 L244.20,225.79 L244.70,225 L244.95,223.65 L245.20,223.03 L245.45,223.57 L245.95,225.30 L246.20,225.33 L246.45,224.93 L246.70,223.92 L246.95,224.22 L247.45,226.27 L247.70,226.64 L248.20,226.88 L248.45,227.10 L248.95,226.61 L249.70,224.21 L250.45,226.26 L250.70,226.35 L250.95,225.86 L251.20,225.30 L251.45,224.10 L251.70,223.75 L251.95,224.13 L252.20,225.28 L252.45,225.76 L252.70,225.85 L253.20,225.07 L253.70,223.36 L253.90,223.01 L254.20,223.43 L254.70,225.21 L254.95,225.37 L255.20,224.68 L255.70,222.53 L255.95,222.38 L256.70,225.77 L256.95,226.25 L257.20,226.36 L257.45,226.12 L257.70,226.06 L257.95,225.72 L258.20,224.59 L258.45,222.35 L259.40,204.84 L260.20,220.48 L260.45,223.45 L260.70,224.99 L260.95,225.52 L261.20,224.75 L261.45,223.55 L261.95,218.90 L262.10,218.31 L262.95,225.24 L263.20,226.24 L263.70,227.20 L263.95,227.35 L264.20,227.38 L264.45,227.27 L264.70,227.36 L264.95,227.14 L265.45,225.28 L265.95,222.18 L266.10,221.90 L266.95,226.62 L267.70,228.10 L267.95,227.97 L268.20,228.03 L268.45,228.41 L268.70,228.40 L269.70,226.84 L269.95,227.07 L270.20,227.86 L270.45,227.77 L270.70,228.04 L271.20,228.02 L271.45,228.22 L271.70,228.24 L271.95,227.98 L272.70,225.55 L272.95,225.94 L273.20,227.07 L273.70,227.82 L273.95,227.99 L274.45,227.56 L275.20,225.13 L275.45,223.44 L275.70,223 L275.95,223.43 L276.20,225.07 L276.45,225.91 L276.70,226.36 L277.20,225.84 L277.45,226.39 L277.95,226.96 L278.20,226.90 L278.70,224.41 L278.95,224.79 L279.70,227.37 L280.20,228.23 L280.45,227.91 L280.95,227.79 L281.20,227.54 L281.70,226.18 L281.95,224.77 L282.20,224.70 L282.70,226.90 L282.95,227.31 L283.45,225.71 L283.70,224.51 L284.30,220.51 L284.45,220.90 L285.20,226.28 L285.45,227.16 L285.95,228.05 L286.45,228.10 L286.70,227.81 L287.20,225.44 L287.45,224.95 L287.70,225.42 L287.95,226.31 L288.20,227.66 L288.45,227.77 L288.95,226.29 L289.20,226.07 L289.45,226.51 L289.70,227.68 L289.95,227.66 L290.20,227.39 L290.45,226.01 L290.70,225.20 L290.95,225.81 L291.45,227.83 L291.70,228.25 L292.20,228.54 L292.45,228.19 L292.70,228.38 L292.95,228.21 L293.20,227.79 L293.45,227.60 L293.70,227.12 L293.95,227.23 L294.70,228.07 L295.20,228.25 L295.45,227.91 L295.70,227.28 L295.95,226.27 L296.45,222.54 L296.95,216.52 L297.20,215 L297.45,216.81 L297.95,222.31 L298.45,226.24 L298.95,227.55 L299.45,228.17 L299.70,228.20 L300.70,226.45 L301.20,227.66 L301.45,227.98 L301.70,227.77 L301.95,228.17 L302.20,227.81 L302.45,227.70 L302.95,225.41 L303.20,225.04 L303.70,226.42 L303.95,227.50 L304.20,227.75 L304.95,226.40 L305.20,226.24 L305.95,227.84 L306.20,227.73 L306.70,226.73 L306.95,225.81 L307.20,224.41 L307.70,220.13 L307.90,219.31 L308.20,220.87 L308.70,225.23 L309.20,227.26 L309.45,227.76 L309.70,227.97 L309.95,228.02 L310.45,227.04 L310.70,225.94 L310.95,225.84 L311.20,225.87 L311.70,227.57 L311.95,227.46 L312.45,226.99 L312.70,226.61 L312.95,226.56 L313.45,227.64 L313.70,227.68 L313.95,228.11 L314.70,226.94 L314.95,226.12 L316.10,218.10 L316.95,224.48 L317.45,227.12 L317.70,226.96 L317.95,226.59 L318.45,225.54 L318.95,226.96 L319.45,227.92 L319.70,227.70 L319.95,226.92 L320.20,225.37 L320.45,224.85 L320.70,225.23 L320.95,226.72 L321.45,228.47 L321.95,228.53 L322.20,228.27 L322.95,228.35 L323.45,227.36 L323.70,227.53 L323.95,227.53 L324.20,227.78 L324.45,227.83 L324.70,227.83 L324.95,227.67 L325.20,226.40 L325.45,225.64 L325.70,225.34 L325.95,225.76 L326.45,227.69 L326.70,227.88 L326.95,227.64 L327.45,226.52 L327.95,226.90 L328.20,227.22 L328.45,227.80 L328.70,227.55 L328.95,227.85 L329.20,227.89 L329.45,227.45 L329.70,227.79 L330.20,226.91 L330.70,225.16 L330.95,224.90 L331.20,225.12 L331.45,226.03 L331.70,226.45 L332.20,225.52 L332.70,223.88 L332.80,223.78 L332.95,224 L333.20,224.94 L333.70,226.02 L334.20,226.81 L334.45,226.98 L334.70,226.86 L334.95,227.09 L335.20,226.86 L335.45,227.06 L335.70,226.90 L335.95,226.36 L336.20,226.19 L336.45,225.71 L336.70,225.90 L337.20,226.75 L337.45,226.64 L337.70,225.96 L338.20,225.33 L338.45,225.45 L338.70,226.18 L339.20,226.85 L339.45,226.12 L339.95,222.14 L340.45,213.57 L340.70,210.95 L340.95,213.68 L341.45,222.21 L341.95,226.36 L342.20,227.03 L342.70,227.11 L342.95,226.63 L343.20,225.49 L343.45,224.88 L343.70,225.28 L344.45,227.53 L344.70,227.85 L344.95,227.61 L345.20,227.58 L345.45,227.93 L345.95,227.69 L346.20,227.87 L346.45,227.59 L346.70,227.05 L347.20,227.14 L347.45,227.49 L347.95,227.66 L348.20,227.99 L348.45,227.82 L349.20,226.13 L349.45,226.03 L349.95,227.29 L350.20,227.53 L350.45,227.50 L350.70,227.72 L350.95,227.58 L351.20,227.74 L351.45,227.41 L351.70,227.44 L352.45,226.89 L352.95,225.64 L353.45,224.68 L353.50,224.80 L353.70,224.85 L354.45,226.70 L354.70,226.98 L355.20,227.03 L355.45,226.90 L355.70,226.95 L356.20,226.61 L356.45,225.60 L356.70,225.65 L356.95,225.58 L357.70,226.89 L358.20,225.36 L358.70,223.14 L358.95,223.53 L359.45,226.05 L359.70,226.58 L359.95,226.78 L360.20,226.19 L360.45,225.87 L360.95,223.46 L361.20,223.35 L361.95,226.34 L362.20,226.40 L362.45,226.75 L362.70,226.53 L362.95,226.53 L363.20,226.20 L363.45,226.12 L363.70,225.87 L363.95,225.88 L364.20,226.29 L364.45,226.45 L364.70,226.79 L364.95,226.57 L365.20,226.72 L365.45,226.74 L366.20,226.37 L366.45,226.16 L367.20,223.40 L367.45,224.06 L367.95,226.07 L368.20,226.41 L368.45,226.43 L368.70,226.72 L369.20,226.90 L369.45,226.50 L369.95,226.09 L370.45,223.52 L370.70,223.21 L370.95,223.61 L371.45,225.86 L371.70,226.05 L372.20,225.26 L372.95,224.86 L373.45,225.64 L373.70,226.31 L373.95,226.33 L374.20,226.51 L374.45,226.86 L374.95,226.56 L375.20,226.75 L375.45,226.29 L375.95,225.84 L376.20,225.16 L376.45,225.08 L377.20,226.76 L377.45,226.44 L377.70,226.76 L377.95,226.38 L378.20,226.28 L378.45,225.78 L378.95,225.88 L379.70,226.74 L379.95,226.31 L380.20,225.54 L380.70,222.94 L380.95,222.67 L381.70,225.72 L381.95,225.76 L382.20,225.19 L382.70,223.24 L382.95,222.71 L383.70,225.40 L383.95,225.66 L384.20,225.71 L384.45,225.54 L385.20,223.41 L385.45,223.21 L385.70,224.10 L385.95,224.60 L386.20,224.80 L386.45,225.34 L386.70,225.16 L386.95,225.13 L387.45,224.73 L387.70,224.97 L388.70,220.70 L388.95,221.23 L389.70,224.28 L389.95,224.11 L390.20,223.74 L390.45,223.62 L390.95,222.36 L391.45,219.99 L391.70,218.27 L391.95,217.85 L392.70,221.14 L393.20,222.78 L393.45,222.86 L393.70,223.48 L393.95,223.08 L394.20,223.55 L394.45,223.13 L394.70,223.03 L394.95,223.30 L395.20,223.13 L395.45,223.15 L395.95,222.26 L396.20,221.09 L396.45,220.55 L396.70,220.31 L396.95,221.14 L397.70,222.48 L397.95,222.54 L398.20,222.09 L398.45,221.91 L398.70,221.32 L399.20,219.47 L399.70,216.82 L399.90,216.40 L400.20,217.25 L400.95,220.38 L401.20,221.09 L401.70,221.75 L402.45,221.12 L403.20,218.31 L403.45,218.36 L403.95,220.13 L404.20,220.49 L404.45,220.07 L404.95,217.75 L405.20,217.79 L405.95,220.35 L406.45,220.13 L406.70,219.79 L406.95,219.63 L407.20,220.20 L407.70,220.58 L408.45,220.64 L408.70,220.25 L408.95,219.47 L409.20,218.14 L409.45,217.89 L409.70,218.09 L410.20,219.82 L410.45,220.13 L410.95,219.65 L411.45,218.93 L411.70,218.89 L411.95,218.39 L412.20,218.24 L413.20,213.12 L413.70,215.64 L414.20,217.31 L414.45,217.71 L414.70,217.56 L415.20,218.97 L415.45,219.24 L415.95,219.43 L416.20,219.69 L416.70,218.77 L417.45,216.61 L417.70,217 L417.95,218.35 L418.70,219.29 L419.45,217.22 L419.70,216.21 L419.95,216.27 L420.20,217.20 L420.45,217.25 L420.70,217.45 L421.70,213.36 L422,212.45 L422.45,213.83 L422.95,216.28 L423.20,216.88 L423.45,217.07 L424.20,214.71 L424.45,214.79 L424.70,215.60 L424.95,215.55 L425.20,214.84 L425.70,211.97 L426,210.98 L426.45,212.75 L426.95,215.63 L427.20,216.24 L427.45,217.32 L427.70,217.50 L427.95,217.94 L428.20,217.67 L428.45,217.75 L428.70,216.95 L428.95,216.53 L429.20,216.79 L429.70,217.65 L430.20,217.99 L430.70,216.68 L430.95,215.38 L431.20,214.93 L431.95,217.19 L432.20,217.17 L432.70,215.83 L432.95,215.85 L433.45,217.44 L433.95,218.01 L434.45,217.70 L434.70,217.70 L434.95,218 L435.45,217.27 L436.20,214 L436.45,214.08 L437.20,217.15 L437.45,217.27 L437.70,217.14 L437.95,216.81 L438.45,215.95 L438.70,215.03 L438.95,214.75 L439.20,213.80 L439.30,214.08 L439.45,213.89 L439.70,214.73 L440.20,215.61 L440.70,216.87 L441.45,217.45 L441.70,217.03 L441.95,217.18 L442.20,216.92 L442.45,216.81 L442.95,214.65 L443.20,213.94 L443.45,214.41 L443.95,216.52 L444.20,216.90 L444.45,216.79 L444.70,217.06 L445.20,215.83 L445.45,215.94 L445.70,215.80 L445.95,216.41" fill="none" stroke="#5e5e5e" stroke-width="0.95"/>
<path d="M44.70,246.17 L44.95,246.36 L45.20,246.30 L45.70,246.49 L45.95,246.25 L46.20,246.25 L46.45,246.70 L46.70,246.44 L46.95,246.46 L47.20,246.88 L47.45,246.65 L47.70,246.86 L47.95,246.72 L48.20,246.83 L48.45,246.62 L48.95,247.05 L49.20,246.91 L49.45,247.05 L49.70,247.05 L49.95,246.78 L50.20,247.13 L50.95,246.79 L51.20,247.21 L51.45,247.03 L51.95,247.24 L52.20,247.17 L52.45,247.28 L52.70,247.02 L52.95,247.23 L53.20,247.06 L53.45,247.31 L53.70,247.29 L53.95,246.90 L54.45,246.98 L54.70,247.36 L54.95,247.10 L55.20,247.20 L55.45,247.05 L55.70,247.16 L56.20,247.09 L56.70,247.22 L56.95,247.39 L57.20,247.28 L57.45,247.41 L57.95,247.46 L58.45,247.06 L58.70,247.41 L58.95,247.47 L59.20,247.45 L59.45,247.29 L59.70,247.37 L59.95,247.12 L60.20,247.44 L60.95,247.07 L61.20,247.48 L61.45,247.55 L61.70,247.11 L61.95,247.47 L62.45,247.16 L62.70,247.24 L62.95,247.48 L63.20,247.54 L63.45,247.13 L63.70,247.42 L63.95,247.14 L64.20,247.49 L64.45,247.30 L64.70,247.58 L64.95,247.64 L65.20,247.39 L65.45,247.62 L65.70,247.26 L65.95,247.13 L66.20,247.38 L66.45,247.08 L67.20,247.33 L67.45,247.09 L67.70,247.02 L67.95,247.42 L68.20,247.12 L68.45,247.43 L68.70,247.39 L68.95,247.11 L69.70,247.20 L70.45,247.15 L70.70,247.29 L70.95,247.06 L71.20,247.01 L71.45,247.14 L71.70,246.89 L71.95,246.90 L72.20,247.20 L72.45,246.92 L72.70,246.88 L72.95,246.57 L73.45,246.75 L73.70,246.42 L73.95,246.67 L74.20,246.63 L74.45,246.29 L74.70,246.52 L74.95,246.39 L75.20,246.45 L75.45,246.24 L75.70,246.36 L75.95,246.33 L76.20,245.92 L76.45,245.89 L76.70,246.15 L76.95,246.24 L77.20,245.84 L77.70,245.91 L77.95,245.72 L78.45,245.59 L78.95,245.60 L79.20,245.39 L79.45,245.37 L79.70,245.50 L79.95,245.06 L80.20,245.27 L80.45,245.29 L80.70,245.01 L80.95,244.90 L81.20,245.13 L81.45,244.78 L81.70,244.69 L82.20,244.82 L82.45,244.46 L82.95,244.44 L83.20,244.63 L83.45,244.37 L83.70,244.51 L83.95,244.10 L84.70,244.27 L84.95,243.99 L85.45,243.69 L85.70,243.83 L85.95,243.60 L86.20,243.84 L86.45,243.80 L86.70,243.40 L86.95,243.39 L87.20,243.59 L87.45,243.44 L87.70,243.46 L88.20,242.99 L88.45,243.01 L88.70,243.20 L88.95,242.87 L89.95,242.68 L90.20,242.87 L90.45,242.43 L90.70,242.29 L90.95,242.69 L91.45,242.58 L91.70,242.24 L91.95,242.44" fill="none" stroke="#606060" stroke-width="0.9"/>
<path d="M44.70,245.25 L45.95,245.25 L46.20,244.86 L46.70,245.18 L46.95,245.04 L47.20,245.12 L47.45,244.78 L47.70,244.89 L47.95,244.78 L48.45,244.86 L48.70,244.61 L49.20,244.67 L49.45,244.90 L49.70,244.82 L49.95,244.55 L50.20,244.78 L50.45,244.49 L50.70,244.66 L50.95,244.44 L51.20,244.36 L51.45,244.69 L51.70,244.40 L51.95,244.38 L52.20,244.66 L52.45,244.59 L52.70,244.33 L52.95,244.58 L53.20,244.38 L53.45,244.41 L53.70,244.20 L53.95,244.47 L54.20,244.34 L54.45,244.43 L54.70,244.38 L54.95,244.11 L55.45,244.01 L55.95,243.92 L56.45,244.09 L56.70,243.82 L56.95,244.07 L57.45,243.87 L57.70,244.05 L58.20,243.80 L58.70,243.91 L58.95,243.63 L59.20,243.97 L59.45,243.56 L59.70,243.83 L59.95,243.84 L60.20,243.50 L60.45,243.80 L60.70,243.62 L60.95,243.69 L61.20,243.46 L61.45,243.46 L61.70,243.50 L61.95,243.80 L62.20,243.49 L62.45,243.70 L62.95,243.76 L63.20,243.51 L63.95,243.65 L64.20,243.38 L64.45,243.62 L64.95,243.65 L65.20,243.31 L65.45,243.66 L65.70,243.31 L66.45,243.61 L66.70,243.37 L66.95,243.59 L67.45,243.33 L68.20,243.20 L68.45,243.22 L68.95,243.54 L69.20,243.20 L69.45,243.14 L69.70,243.51 L69.95,243.32 L70.45,243.18 L70.95,243.39 L71.70,243.05 L71.95,243.39 L72.20,243.03 L72.70,243.33 L72.95,243.03 L73.20,243.26 L73.45,243.34 L73.70,243.20 L73.95,243.26 L74.20,242.97 L74.45,243.10 L74.70,242.97 L74.95,243.24 L75.20,243.01 L75.45,243.06 L75.70,243.27 L76.20,243.24 L76.45,243.02 L76.95,243.11 L77.95,242.84 L78.20,242.92 L78.45,243.16 L79.70,242.75 L80.20,242.99 L80.45,243 L80.70,242.78 L80.95,242.92 L81.95,242.82 L82.20,242.64 L82.45,242.75 L82.70,242.56 L83.20,242.70 L83.70,242.47 L83.95,242.70 L84.45,242.51 L84.70,242.26 L84.95,242.45 L85.20,242.31 L85.45,242.45 L85.70,242.34 L85.95,242.46 L86.20,242.37 L86.45,242.41 L86.70,242.20 L87.45,242.32 L87.70,242.11 L87.95,242.28 L88.45,242.17 L88.70,242.26 L88.95,242.23 L89.20,242.03 L89.45,242.01 L89.70,241.84 L89.95,242.09 L90.20,242.11 L90.45,241.90 L91.20,241.93 L91.45,241.68 L91.70,241.90 L92.45,241.69 L92.95,241.78 L93.45,241.71 L93.70,241.41 L94.45,241.59 L94.70,241.39 L94.95,241.55 L95.20,241.51 L95.45,241.25 L95.70,241.40 L96.20,241.18 L96.70,241.24 L97.45,241.06 L97.70,241.20 L97.95,241.15 L98.20,241.22 L98.45,241.18 L98.70,241.02 L98.95,241.26 L99.20,240.88 L99.45,241.01 L99.95,240.97 L100.20,240.84 L100.45,241.12 L100.95,240.80 L101.20,241.02 L101.45,240.81 L101.70,240.97 L101.95,240.83 L102.45,240.77 L102.95,240.41 L103.20,240.72 L103.45,240.82 L103.95,240.76 L104.20,240.95 L104.45,240.94 L104.70,241.09 L104.95,241.09 L105.45,240.81 L105.70,240.96 L105.95,240.47 L106.20,240.37 L106.70,240.58 L106.95,240.52 L107.45,240.99 L107.70,240.79 L108.20,240.73 L108.45,240.74 L108.70,240.98 L108.95,240.65 L109.20,240.67 L109.70,240.01 L109.95,239.92 L110.20,240.47 L110.70,240.64 L110.95,240.59 L111.20,240.68 L111.70,239.67 L111.95,239.56 L112.20,239.56 L112.45,240.04 L112.70,240.13 L113.20,239.92 L113.45,239.42 L113.70,238.40 L114.20,237.31 L114.45,237.18 L114.70,236.58 L115.20,234.53 L116.45,228.61 L116.70,228.06 L116.95,228.35 L117.45,229.64 L117.70,230.69 L118.20,231.80 L118.70,232.40 L119,232.99 L119.70,236.14 L120.70,239.41 L120.95,239.66 L121.45,239.40 L121.70,239.85 L121.95,239.98 L122.45,240.51 L122.95,240.51 L123.20,240.69 L123.45,240.48 L123.70,240.47 L123.95,240.63 L124.70,239.61 L124.95,238.74 L125.20,238.88 L125.70,239.53 L125.95,239.66 L126.20,239.67 L126.45,239.25 L126.70,238.35 L127,238.02 L127.95,239.57 L128.20,239.63 L128.45,239.24 L128.70,239.39 L129.20,240.23 L129.45,240.37 L129.70,240.19 L129.95,240.49 L130.20,240.60 L130.45,240.61 L130.70,240.50 L130.95,240.25 L131.20,240.57 L131.45,240.33 L131.95,240.62 L132.20,240.49 L132.45,240.18 L132.70,240.12 L132.95,240.29 L133.20,240.02 L133.45,240.33 L133.95,240.35 L134.20,240.57 L134.45,240.35 L134.95,240.50 L135.45,240.36 L135.70,240.55 L135.95,240.55 L136.20,240.48 L136.45,239.94 L136.70,239.66 L137.45,238.03 L137.50,238.18 L137.70,238.24 L137.95,238.74 L138.20,239.61 L138.45,239.85 L138.70,240.30 L139.20,240.41 L139.45,240.20 L139.95,240.32 L140.20,240.60 L140.45,240.57 L140.70,240.81 L141.45,240.43 L141.95,239.76 L142.20,239.15 L142.95,240.18 L143.20,240.72 L143.45,240.60 L143.70,240.64 L143.95,240.83 L144.20,240.65 L144.45,240.83 L145.20,239.80 L145.45,238.79 L146,237.36 L147.20,240.64 L147.70,240.69 L147.95,240.20 L148.45,240.06 L149.20,240.92 L149.70,240.94 L149.95,240.85 L150.20,241.13 L150.45,241.04 L150.70,241.08 L150.95,240.87 L151.20,240.92 L151.45,240.64 L151.70,240.59 L151.95,240.64 L152.20,240.83 L152.45,240.80 L153.20,240.61 L153.45,240.33 L153.70,240.48 L153.95,240.28 L154.20,240.54 L154.45,240.44 L154.95,240.99 L155.45,240.81 L155.70,240.82 L155.95,240.66 L156.70,240.63 L157.20,240.28 L157.45,239.73 L157.70,239.78 L158.45,240.54 L158.95,240.59 L159.20,240.25 L159.45,240.30 L159.95,239.06 L160.60,236.79 L160.95,237.59 L161.20,238.74 L161.70,240.05 L161.95,240.40 L162.20,240.34 L162.45,240.40 L162.95,240.15 L163.20,239.83 L163.45,239.81 L163.70,240.13 L163.95,240.13 L164.45,240.50 L164.70,240.46 L164.95,240.64 L165.20,240.63 L165.45,240.40 L165.70,240.43 L166.20,240.68 L166.95,240.04 L167.20,239.18 L167.45,238.95 L167.70,239.43 L168.70,240.61 L169.20,240.23 L169.70,239.46 L169.95,239.45 L170.20,239.28 L170.45,239.79 L170.70,239.83 L170.95,240.15 L171.20,240.17 L171.45,240.33 L171.70,240.20 L172.20,240.30 L172.45,240.20 L173.20,239.52 L173.70,236.77 L174.50,229.93 L174.70,230.97 L175.20,236.11 L175.45,237.81 L175.70,239.11 L175.95,239.54 L176.45,240.06 L177.20,239.52 L177.95,240.30 L178.20,240.17 L178.70,240.41 L178.95,240.17 L179.20,240.12 L179.45,240.20 L179.70,240.11 L179.95,240.38 L180.20,240.39 L180.45,240.18 L181.20,239.89 L181.45,239.66 L181.95,239.90 L182.45,239.98 L182.70,240.29 L182.95,240.04 L183.70,240.06 L184.20,239.37 L184.45,238.69 L184.95,238.03 L185.20,237.84 L185.45,236.85 L185.70,235.15 L186.45,226.45 L186.70,224.56 L187.95,237.16 L188.20,238.23 L188.45,238.74 L188.70,238.80 L188.95,238.65 L189.20,238.63 L190.20,240.16 L190.45,240.14 L190.70,239.93 L190.95,239.94 L191.45,240.06 L191.70,240.25 L191.95,240.26 L192.95,238.95 L193.20,238.90 L193.45,239.08 L193.70,239.71 L193.95,240.07 L194.20,240.13 L194.45,239.91 L194.70,240.08 L194.95,239.94 L195.20,240.15 L195.45,240.04 L195.70,240.23 L195.95,240.17 L196.20,239.87 L196.70,239.92 L196.95,239.46 L197.20,239.26 L197.45,239.30 L197.95,239.98 L198.20,239.97 L198.45,240.19 L198.95,239.86 L199.20,240.14 L199.70,239.82 L199.95,240.15 L200.20,239.64 L200.45,239.57 L200.70,239.11 L201.20,238.88 L201.70,239.61 L202.20,240.03 L202.45,239.97 L202.70,240.13 L202.95,239.93 L203.45,239.89 L203.70,240.06 L204.45,239.12 L204.70,239.17 L204.95,239.40 L205.20,239.98 L205.45,240 L205.70,239.87 L206.20,239.91 L206.45,240.16 L206.70,240.24 L206.95,239.96 L207.20,240.20 L207.45,239.97 L207.70,239.97 L207.95,239.67 L208.45,238.58 L208.70,238.42 L208.95,238.77 L209.20,239.55 L209.45,239.95 L209.70,239.94 L209.95,240.07 L210.45,239.93 L210.70,240 L210.95,239.88 L211.70,238.82 L212.45,239.98 L212.70,240.10 L212.95,240.10 L213.45,239.54 L213.70,238.91 L213.95,238.86 L214.70,239.86 L215.95,240.29 L216.20,240.26 L216.45,240.06 L216.70,240.21 L217.20,239.43 L217.70,236.86 L218.70,224.58 L219.45,234.23 L219.95,238.38 L220.20,239.39 L220.70,239.56 L220.95,238.80 L221.95,232.96 L222.20,233.95 L222.95,238.43 L223.45,239.85 L223.70,239.92 L223.95,239.81 L224.20,239.28 L224.70,238.96 L225.45,240.22 L225.70,240.42 L225.95,240.12 L226.20,240.24 L226.45,240.13 L226.95,238.92 L227.20,238.16 L228,233.97 L228.20,234.66 L228.70,237.82 L229.20,239.43 L229.70,240.36 L230.70,239.61 L231.20,238.80 L231.45,239.09 L231.95,240.18 L232.20,240.38 L232.45,240.44 L232.70,240.10 L233.45,239.91 L233.70,239.73 L233.95,240.17 L234.45,240.50 L234.70,240.23 L234.95,240.36 L235.20,240.30 L235.95,238.92 L236.20,238.06 L236.70,235.28 L237.45,229.52 L237.70,228.39 L237.95,229.54 L238.70,235.61 L239.20,238.25 L239.45,239.20 L239.95,239.61 L240.20,239.62 L240.45,239.48 L240.70,239.10 L241.20,237.37 L242.20,229.79 L242.50,228.15 L242.95,230.92 L243.70,236.97 L243.95,238.25 L244.45,239.71 L244.70,240.08 L245.20,240.06 L245.45,239.96 L245.70,239.42 L245.95,239.12 L246.20,239.17 L246.45,239.39 L246.95,240.36 L247.20,240.59 L247.45,240.67 L248.45,240.06 L248.70,239.69 L248.95,239.55 L249.70,240.57 L249.95,240.41 L250.20,240.50 L250.45,240.42 L250.95,240.45 L251.45,239.18 L251.95,239.12 L252.45,240.43 L252.70,240.34 L252.95,240.71 L253.45,240.44 L253.95,240.62 L254.45,240.64 L254.70,240.45 L254.95,240.49 L255.20,240.74 L255.70,240.23 L256.45,239.06 L256.80,238.30 L256.95,238.29 L257.45,239.65 L257.70,239.89 L258.20,240.17 L258.45,240.01 L258.95,240.09 L259.20,240.31 L259.45,240.73 L259.70,240.63 L259.95,240.81 L260.45,240.55 L260.70,240 L261.20,239.80 L261.45,240.12 L261.70,240.18 L261.95,240.68 L262.20,240.64 L262.45,240.89 L262.70,240.91 L262.95,240.60 L263.20,240.68 L263.70,240.63 L264.20,240.33 L264.45,239.91 L264.70,239.93 L264.95,240.24 L265.20,240.33 L265.70,240.78 L265.95,240.60 L266.45,239.67 L266.95,240.29 L267.20,240.47 L267.70,240.62 L267.95,240.92 L268.20,240.92 L268.45,240.53 L268.95,240.27 L269.20,239.80 L269.70,239.68 L269.95,240.22 L270.20,240.34 L270.70,240.95 L270.95,240.86 L271.20,240.62 L271.45,240.63 L271.70,240.85 L272.20,240.74 L272.95,240.88 L273.70,239.51 L273.95,239.50 L274.95,240.84 L275.20,240.61 L275.45,240.93 L275.70,240.79 L276.20,240.79 L276.45,240.68 L276.70,240.02 L277.20,239.43 L277.70,240.21 L278.20,240.70 L278.95,241.02 L279.20,240.80 L279.95,241 L280.20,240.94 L280.45,240.83 L280.70,240.44 L280.95,240.36 L281.20,240.76 L281.45,240.56 L281.95,240.96 L282.45,240.84 L282.70,241.06 L282.95,240.81 L283.45,241.02 L283.70,240.75 L284.20,240.77 L284.45,240.52 L284.70,239.90 L285.20,239.29 L286.20,241.05 L286.45,240.81 L286.70,240.83 L286.95,241.04 L287.20,241.02 L287.45,240.83 L287.70,241.06 L288.45,240.80 L288.95,239.81 L289.45,239.51 L289.70,240.14 L290.70,241.05 L291.45,240.66 L291.70,240.76 L291.95,240.32 L292.20,240.24 L292.45,239.95 L292.70,240.45 L292.95,240.56 L293.20,240.97 L293.45,240.96 L293.70,240.86 L293.95,240.42 L294.20,240.28 L294.45,239.62 L294.70,239.64 L294.95,240.27 L295.70,240.93 L296.20,240.97 L296.70,240.43 L297.20,240.94 L297.45,240.76 L297.70,241.05 L297.95,240.81 L298.20,240.73 L298.45,240.42 L298.70,240.44 L299.45,239.28 L299.95,240.03 L300.20,240.65 L300.45,240.61 L300.95,240.90 L301.20,240.80 L301.45,240.88 L301.95,240.75 L302.20,240.56 L302.45,240.66 L302.95,241.08 L303.70,240.88 L303.95,240.43 L304.20,240.48 L304.95,241.18 L305.45,241.05 L306.45,240.16 L306.95,240.54 L307.45,240.58 L307.70,239.93 L308.20,239.13 L308.30,239.18 L308.45,239 L308.70,239.73 L309.20,240.37 L309.45,240.86 L309.70,241.10 L309.95,241.09 L310.20,240.92 L310.45,241.30 L310.70,241.07 L310.95,241.15 L311.20,241.11 L311.45,240.77 L311.95,240.55 L312.20,240.56 L312.45,240.73 L312.70,241.14 L312.95,241.09 L313.20,241.29 L313.45,240.95 L313.70,240.98 L313.95,240.75 L314.20,240.77 L314.45,240.49 L315.20,240.76 L315.45,241.05 L315.95,240.98 L316.20,241.20 L316.70,240.94 L317.20,240.97 L317.70,240.76 L317.95,240.78 L318.20,241.20 L318.45,241.01 L318.70,241.21 L318.95,241.04 L319.20,241.40 L319.45,241.22 L319.95,241.12 L320.45,241.36 L321.20,240.07 L321.70,239.45 L322.20,240.77 L322.45,240.94 L322.70,241.31 L323.45,241.06 L323.70,241.38 L324.70,240.27 L324.95,240.33 L325.20,240.58 L325.45,241.09 L325.70,241.08 L326.20,241.28 L326.70,240.76 L326.95,240.70 L327.45,241.13 L327.70,241.02 L327.95,241.45 L328.20,241.13 L328.70,241.11 L328.95,241.19 L329.20,241.11 L329.45,240.97 L329.70,240.50 L329.95,240.71 L330.20,240.67 L330.45,241.11 L330.95,241.24 L331.20,241.14 L331.45,241.42 L331.70,241.18 L331.95,241.44 L332.20,241.28 L332.45,241.38 L332.95,241.31 L333.20,241.38 L333.45,241.23 L333.70,240.80 L333.95,240.77 L334.20,241.11 L334.45,241.01 L334.70,241.25 L335.20,241.25 L335.45,240.43 L335.95,239.80 L336.45,240.36 L336.70,241.25 L336.95,241.26 L337.20,241.56 L337.70,241.42 L337.95,241.59 L338.45,241.33 L338.70,241.37 L338.95,241.10 L339.45,241.06 L339.70,241.30 L339.95,241.22 L340.20,241.45 L340.45,241.30 L340.70,241.63 L341.20,241.66 L341.45,241.34 L341.70,241.52 L342.45,241.12 L342.70,241.41 L342.95,241.44 L343.20,241.32 L343.45,241.65 L343.95,241.53 L344.20,241.64 L344.45,241.48 L344.70,241.48 L344.95,241.30 L345.20,241.32 L345.95,239.85 L346.20,240.10 L346.70,241.36 L347.45,241.75 L347.70,241.63 L347.95,241.73 L348.20,241.49 L348.45,241.57 L348.70,241.81 L348.95,241.51 L349.70,240.98 L349.95,240.30 L350.20,240.37 L350.45,240.70 L350.70,241.32 L351.20,241.68 L351.45,241.52 L351.70,241.82 L351.95,241.72 L352.70,240.96 L352.95,241.07 L353.45,241.59 L353.70,241.51 L353.95,241.90 L354.20,241.88 L354.70,240.87 L355.20,240.19 L355.95,241.42 L356.45,241.75 L356.70,241.67 L356.95,241.75 L357.70,240.74 L357.95,239.86 L358.45,237.15 L358.80,235.98 L359.20,237.34 L359.70,240.04 L360.20,241.40 L360.45,241.59 L360.70,241.66 L361.45,241.40 L361.70,241.43 L361.95,241.75 L362.45,242.05 L363.20,241.79 L363.70,241.82 L363.95,241.99 L364.20,242 L364.70,241.44 L365.20,240.24 L365.45,240.02 L365.95,241.19 L366.45,241.79 L366.70,241.73 L367.20,241.91 L367.70,241.75 L368.20,242.12 L368.45,242.02 L368.70,241.64 L368.95,241.49 L369.20,240.62 L369.45,240.32 L369.70,240.41 L370.20,241.62 L370.45,241.94 L370.70,241.93 L370.95,242.08 L371.20,241.94 L371.45,242.12 L371.95,241.89 L372.45,241.51 L372.95,240.64 L373.95,235.89 L374.20,236.45 L374.70,239.15 L375.20,240.93 L375.45,241.08 L375.70,240.97 L376.20,240.99 L376.45,241.11 L376.70,241.65 L376.95,241.69 L377.20,241.97 L377.45,241.83 L377.95,242.16 L378.20,242.01 L378.45,241.68 L378.70,241.75 L378.95,241.66 L379.45,241.68 L379.95,241.95 L380.20,241.76 L380.45,241.85 L380.70,241.43 L381.20,241.17 L381.70,241.96 L382.20,241.85 L382.70,242.14 L383.45,240.83 L383.70,240.77 L383.95,240.87 L384.20,241.18 L384.45,241.89 L384.70,241.89 L384.95,242.10 L385.20,242.02 L385.45,242.20 L385.70,241.87 L386.45,241.96 L386.70,242.18 L387.45,241.78 L387.70,241.60 L387.95,241.19 L388.20,241.09 L388.70,241.75 L388.95,241.89 L389.20,241.99 L389.45,241.88 L389.95,242.07 L390.70,241.06 L390.95,240.32 L391.95,234.91 L392.10,234.54 L393.20,240.17 L393.70,241.49 L393.95,241.55 L394.20,241.90 L394.45,241.88 L394.95,242.16 L395.20,242.10 L395.45,242.24 L395.70,242.22 L396.20,241.99 L396.45,241.44 L396.95,241.22 L397.20,241.57 L397.45,241.66 L397.70,242.16 L397.95,242.02 L398.20,242.18 L398.45,242.19 L398.70,242.07 L398.95,241.64 L399.20,241.45 L399.45,240.91 L399.95,238.74 L400.45,235.81 L400.70,234.91 L400.95,235.70 L401.45,238.82 L401.70,239.80 L402.20,241.38 L402.70,241.96 L403.20,242.01 L403.45,241.94 L403.70,242.27 L404.20,242.03 L404.45,242.06 L404.70,241.85 L405.45,240.63 L405.70,240.71 L406.20,241.88 L406.45,241.94 L406.70,242.33 L406.95,241.99 L407.20,242.17 L407.45,242.09 L407.70,242.19 L407.95,242 L408.20,242.06 L408.45,242.34 L408.70,242.17 L409.45,241.01 L409.70,241.08 L409.95,241.42 L410.20,242.08 L411.20,241.96 L411.45,242.21 L411.95,241.54 L412.45,239.50 L413.20,232.59 L413.50,230.57 L414.45,238.56 L414.70,240.01 L414.95,240.53 L415.45,240.78 L415.95,241.67 L416.45,242.20 L416.95,242.04 L417.45,242.22 L417.95,242.07 L418.45,242.16 L418.70,242.32 L419.45,241.05 L419.70,240.82 L419.95,241.01 L420.20,241.55 L420.70,242.24 L420.95,242.38 L421.20,242.37 L421.45,242.18 L421.95,242.06 L422.20,242.29 L422.95,241.81 L423.45,241.16 L424.45,242.22 L424.70,242.03 L424.95,242.22 L425.20,241.70 L425.45,241.56 L425.70,241.12 L426.20,239.73 L426.50,239.25 L426.95,239.97 L427.45,241.34 L427.70,241.73 L427.95,241.66 L428.20,241.74 L428.45,241.15 L428.70,240.82 L428.95,240.87 L429.20,241.44 L429.70,242.16 L430.20,242.36 L430.70,242.22 L431.45,242.37 L431.70,242.17 L432.20,242.30 L432.70,241.78 L432.95,241.80 L433.20,241.25 L434.20,242.17 L434.45,242.18 L434.95,242.49 L435.20,242.09 L435.45,242 L435.70,241.69 L436.20,240.44 L436.45,240.70 L436.95,242.07 L437.70,242.34 L437.95,242.35 L438.20,242.21 L438.45,242.42 L438.70,242.44 L439.45,242.28 L439.70,242.16 L440.20,241.66 L440.70,242.26 L440.95,242.24 L441.20,242.42 L441.45,242.27 L441.70,242.28 L442.20,241.97 L442.70,242.07 L443.20,242.39 L443.45,242.26 L443.70,242.43 L443.95,242.44 L444.20,242.21 L444.45,242.49 L444.70,242.28 L445.45,242.46 L445.70,242.38 L445.95,242" fill="none" stroke="#44994a" stroke-width="1.0"/>
<path d="M44.70,245.25 L45.95,245.25 L46.20,244.86 L46.70,245.18 L46.95,245.04 L47.20,245.12 L47.45,244.78 L47.70,244.89 L47.95,244.78 L48.45,244.86 L48.70,244.61 L49.20,244.67 L49.45,244.90 L49.70,244.82 L49.95,244.55 L50.20,244.78 L50.45,244.49 L50.70,244.66 L50.95,244.44 L51.20,244.36 L51.45,244.69 L51.70,244.40 L51.95,244.38 L52.20,244.66 L52.45,244.59 L52.70,244.33 L52.95,244.58 L53.20,244.38 L53.45,244.41 L53.70,244.20 L53.95,244.47 L54.20,244.34 L54.45,244.43 L54.70,244.38 L54.95,244.11 L55.45,244.01 L55.95,243.92 L56.45,244.09 L56.70,243.82 L56.95,244.07 L57.45,243.87 L57.70,244.05 L58.20,243.80 L58.70,243.91 L58.95,243.63 L59.20,243.97 L59.45,243.56 L59.70,243.83 L59.95,243.84 L60.20,243.50 L60.45,243.80 L60.70,243.62 L60.95,243.69 L61.20,243.46 L61.45,243.46 L61.70,243.50 L61.95,243.80 L62.20,243.49 L62.45,243.70 L62.95,243.76 L63.20,243.51 L63.95,243.65 L64.20,243.38 L64.45,243.62 L64.95,243.65 L65.20,243.31 L65.45,243.66 L65.70,243.31 L66.45,243.61 L66.70,243.37 L66.95,243.59 L67.45,243.33 L68.20,243.20 L68.45,243.22 L68.95,243.54 L69.20,243.20 L69.45,243.14 L69.70,243.51 L69.95,243.32 L70.45,243.18 L70.95,243.39 L71.70,243.05 L71.95,243.39 L72.20,243.03 L72.70,243.33 L72.95,243.03 L73.20,243.26 L73.45,243.34 L73.70,243.20 L73.95,243.26 L74.20,242.97 L74.45,243.10 L74.70,242.97 L74.95,243.24 L75.20,243.01 L75.45,243.06 L75.70,243.27 L76.20,243.24 L76.45,243.02 L76.95,243.11 L77.95,242.84 L78.20,242.92 L78.45,243.16 L79.70,242.75 L80.20,242.99 L80.45,243 L80.70,242.78 L80.95,242.92 L81.95,242.82 L82.20,242.64 L82.45,242.75 L82.70,242.56 L83.20,242.70 L83.70,242.47 L83.95,242.70 L84.45,242.51 L84.70,242.26 L84.95,242.45 L85.20,242.31 L85.45,242.45 L85.70,242.34 L85.95,242.46 L86.20,242.37 L86.45,242.41 L86.70,242.20 L87.45,242.32 L87.70,242.11 L87.95,242.28 L88.45,242.17 L88.70,242.26 L88.95,242.23 L89.20,242.03 L89.45,242.01 L89.70,241.84 L89.95,242.09 L90.20,242.11 L90.45,241.90 L91.20,241.93 L91.45,241.68 L91.70,241.90 L92.45,241.69 L92.95,241.78 L93.45,241.71 L93.70,241.41 L94.45,241.59 L94.70,241.39 L94.95,241.55 L95.20,241.51 L95.45,241.25 L95.70,241.40 L96.20,241.18 L96.70,241.24 L97.45,241.06 L97.70,241.20 L97.95,241.15 L98.20,241.22 L98.45,241.18 L98.70,241.02 L98.95,241.26 L99.20,240.88 L99.45,241.01 L99.95,240.97" fill="none" stroke="#58a458" stroke-width="1.3"/>
<path d="M446.6,140.7 L446.6,265.1 L41,265.1" fill="none" stroke="#5e72aa" stroke-width="1.6"/>
<path d="M41,265.1 L41,140.7 L446.6,140.7" fill="none" stroke="#7490cc" stroke-width="1.6"/>
<line x1="228.40" y1="165.30" x2="222.82" y2="181.22" stroke="#000" stroke-width="2.1"/>
<path d="M221.19,174.70 L222.82,181.22 L228.17,177.14" fill="none" stroke="#000" stroke-width="2.1" stroke-linejoin="miter" stroke-miterlimit="10"/>
<text x="239.7" y="169.4" font-family="'Liberation Sans', sans-serif" font-size="11.2" font-weight="bold" fill="#000" text-anchor="start" textLength="52.7" lengthAdjust="spacingAndGlyphs">(+)-ESI-MS</text>
<line x1="302.50" y1="254.00" x2="292.25" y2="245.41" stroke="#7a9640" stroke-width="2.1"/>
<path d="M298.32,245.81 L292.25,245.41 L293.70,251.33" fill="none" stroke="#7a9640" stroke-width="2.1" stroke-linejoin="miter" stroke-miterlimit="10"/>
<text x="311.0" y="259.0" font-family="'Liberation Sans', sans-serif" font-size="11.2" font-weight="bold" fill="#000" text-anchor="start" textLength="52.3" lengthAdjust="spacingAndGlyphs">(–)-ESI-MS</text>
<text x="5.4" y="303.9" font-family="'Liberation Serif', serif" font-size="13.2" font-weight="normal" fill="#000" text-anchor="start">C</text>
<text x="33" y="299.8" font-family="'Liberation Serif', serif" font-size="5.2" fill="#4a4a4a" text-anchor="end">x10<tspan dy="-2" font-size="3.5">7</tspan></text>
<text x="33.3" y="312.8" font-family="'Liberation Serif', serif" font-size="5.6" font-weight="normal" fill="#606060" text-anchor="end" textLength="2.50" lengthAdjust="spacingAndGlyphs">1</text>
<line x1="33.4" y1="310.7" x2="34.4" y2="310.7" stroke="#888" stroke-width="0.6"/>
<text x="33.3" y="321.46" font-family="'Liberation Serif', serif" font-size="5.6" font-weight="normal" fill="#606060" text-anchor="end" textLength="6.25" lengthAdjust="spacingAndGlyphs">0.9</text>
<line x1="33.4" y1="319.4" x2="34.4" y2="319.4" stroke="#888" stroke-width="0.6"/>
<text x="33.3" y="330.12" font-family="'Liberation Serif', serif" font-size="5.6" font-weight="normal" fill="#606060" text-anchor="end" textLength="6.25" lengthAdjust="spacingAndGlyphs">0.8</text>
<line x1="33.4" y1="328.0" x2="34.4" y2="328.0" stroke="#888" stroke-width="0.6"/>
<text x="33.3" y="338.78" font-family="'Liberation Serif', serif" font-size="5.6" font-weight="normal" fill="#606060" text-anchor="end" textLength="6.25" lengthAdjust="spacingAndGlyphs">0.7</text>
<line x1="33.4" y1="336.7" x2="34.4" y2="336.7" stroke="#888" stroke-width="0.6"/>
<text x="33.3" y="347.44" font-family="'Liberation Serif', serif" font-size="5.6" font-weight="normal" fill="#606060" text-anchor="end" textLength="6.25" lengthAdjust="spacingAndGlyphs">0.6</text>
<line x1="33.4" y1="345.3" x2="34.4" y2="345.3" stroke="#888" stroke-width="0.6"/>
<text x="33.3" y="356.1" font-family="'Liberation Serif', serif" font-size="5.6" font-weight="normal" fill="#606060" text-anchor="end" textLength="6.25" lengthAdjust="spacingAndGlyphs">0.5</text>
<line x1="33.4" y1="354.0" x2="34.4" y2="354.0" stroke="#888" stroke-width="0.6"/>
<text x="33.3" y="364.76" font-family="'Liberation Serif', serif" font-size="5.6" font-weight="normal" fill="#606060" text-anchor="end" textLength="6.25" lengthAdjust="spacingAndGlyphs">0.4</text>
<line x1="33.4" y1="362.7" x2="34.4" y2="362.7" stroke="#888" stroke-width="0.6"/>
<text x="33.3" y="373.42" font-family="'Liberation Serif', serif" font-size="5.6" font-weight="normal" fill="#606060" text-anchor="end" textLength="6.25" lengthAdjust="spacingAndGlyphs">0.3</text>
<line x1="33.4" y1="371.3" x2="34.4" y2="371.3" stroke="#888" stroke-width="0.6"/>
<text x="33.3" y="382.08" font-family="'Liberation Serif', serif" font-size="5.6" font-weight="normal" fill="#606060" text-anchor="end" textLength="6.25" lengthAdjust="spacingAndGlyphs">0.2</text>
<line x1="33.4" y1="380.0" x2="34.4" y2="380.0" stroke="#888" stroke-width="0.6"/>
<text x="33.3" y="390.74" font-family="'Liberation Serif', serif" font-size="5.6" font-weight="normal" fill="#606060" text-anchor="end" textLength="6.25" lengthAdjust="spacingAndGlyphs">0.1</text>
<line x1="33.4" y1="388.6" x2="34.4" y2="388.6" stroke="#888" stroke-width="0.6"/>
<text x="33.3" y="399.4" font-family="'Liberation Serif', serif" font-size="5.6" font-weight="normal" fill="#606060" text-anchor="end" textLength="2.50" lengthAdjust="spacingAndGlyphs">0</text>
<line x1="33.4" y1="397.3" x2="34.4" y2="397.3" stroke="#888" stroke-width="0.6"/>
<text x="33.3" y="408.06" font-family="'Liberation Serif', serif" font-size="5.6" font-weight="normal" fill="#606060" text-anchor="end" textLength="8.12" lengthAdjust="spacingAndGlyphs">-0.1</text>
<line x1="33.4" y1="406.0" x2="34.4" y2="406.0" stroke="#888" stroke-width="0.6"/>
<text x="45.1" y="416.0" font-family="'Liberation Serif', serif" font-size="5.8" font-weight="normal" fill="#606060" text-anchor="middle" textLength="2.30" lengthAdjust="spacingAndGlyphs">2</text>
<text x="55.1" y="416.0" font-family="'Liberation Serif', serif" font-size="5.8" font-weight="normal" fill="#606060" text-anchor="middle" textLength="2.30" lengthAdjust="spacingAndGlyphs">4</text>
<text x="65.2" y="416.0" font-family="'Liberation Serif', serif" font-size="5.8" font-weight="normal" fill="#606060" text-anchor="middle" textLength="2.30" lengthAdjust="spacingAndGlyphs">6</text>
<text x="75.2" y="416.0" font-family="'Liberation Serif', serif" font-size="5.8" font-weight="normal" fill="#606060" text-anchor="middle" textLength="2.30" lengthAdjust="spacingAndGlyphs">8</text>
<text x="85.2" y="416.0" font-family="'Liberation Serif', serif" font-size="5.8" font-weight="normal" fill="#606060" text-anchor="middle" textLength="4.60" lengthAdjust="spacingAndGlyphs">10</text>
<text x="95.2" y="416.0" font-family="'Liberation Serif', serif" font-size="5.8" font-weight="normal" fill="#606060" text-anchor="middle" textLength="4.60" lengthAdjust="spacingAndGlyphs">12</text>
<text x="105.3" y="416.0" font-family="'Liberation Serif', serif" font-size="5.8" font-weight="normal" fill="#606060" text-anchor="middle" textLength="4.60" lengthAdjust="spacingAndGlyphs">14</text>
<text x="115.3" y="416.0" font-family="'Liberation Serif', serif" font-size="5.8" font-weight="normal" fill="#606060" text-anchor="middle" textLength="4.60" lengthAdjust="spacingAndGlyphs">16</text>
<text x="125.3" y="416.0" font-family="'Liberation Serif', serif" font-size="5.8" font-weight="normal" fill="#606060" text-anchor="middle" textLength="4.60" lengthAdjust="spacingAndGlyphs">18</text>
<text x="135.4" y="416.0" font-family="'Liberation Serif', serif" font-size="5.8" font-weight="normal" fill="#606060" text-anchor="middle" textLength="4.60" lengthAdjust="spacingAndGlyphs">20</text>
<text x="145.4" y="416.0" font-family="'Liberation Serif', serif" font-size="5.8" font-weight="normal" fill="#606060" text-anchor="middle" textLength="4.60" lengthAdjust="spacingAndGlyphs">22</text>
<text x="155.4" y="416.0" font-family="'Liberation Serif', serif" font-size="5.8" font-weight="normal" fill="#606060" text-anchor="middle" textLength="4.60" lengthAdjust="spacingAndGlyphs">24</text>
<text x="165.4" y="416.0" font-family="'Liberation Serif', serif" font-size="5.8" font-weight="normal" fill="#606060" text-anchor="middle" textLength="4.60" lengthAdjust="spacingAndGlyphs">26</text>
<text x="175.5" y="416.0" font-family="'Liberation Serif', serif" font-size="5.8" font-weight="normal" fill="#606060" text-anchor="middle" textLength="4.60" lengthAdjust="spacingAndGlyphs">28</text>
<text x="185.5" y="416.0" font-family="'Liberation Serif', serif" font-size="5.8" font-weight="normal" fill="#606060" text-anchor="middle" textLength="4.60" lengthAdjust="spacingAndGlyphs">30</text>
<text x="195.5" y="416.0" font-family="'Liberation Serif', serif" font-size="5.8" font-weight="normal" fill="#606060" text-anchor="middle" textLength="4.60" lengthAdjust="spacingAndGlyphs">32</text>
<text x="205.5" y="416.0" font-family="'Liberation Serif', serif" font-size="5.8" font-weight="normal" fill="#606060" text-anchor="middle" textLength="4.60" lengthAdjust="spacingAndGlyphs">34</text>
<text x="215.6" y="416.0" font-family="'Liberation Serif', serif" font-size="5.8" font-weight="normal" fill="#606060" text-anchor="middle" textLength="4.60" lengthAdjust="spacingAndGlyphs">36</text>
<text x="225.6" y="416.0" font-family="'Liberation Serif', serif" font-size="5.8" font-weight="normal" fill="#606060" text-anchor="middle" textLength="4.60" lengthAdjust="spacingAndGlyphs">38</text>
<text x="235.6" y="416.0" font-family="'Liberation Serif', serif" font-size="5.8" font-weight="normal" fill="#606060" text-anchor="middle" textLength="4.60" lengthAdjust="spacingAndGlyphs">40</text>
<text x="245.7" y="416.0" font-family="'Liberation Serif', serif" font-size="5.8" font-weight="normal" fill="#606060" text-anchor="middle" textLength="4.60" lengthAdjust="spacingAndGlyphs">42</text>
<text x="255.7" y="416.0" font-family="'Liberation Serif', serif" font-size="5.8" font-weight="normal" fill="#606060" text-anchor="middle" textLength="4.60" lengthAdjust="spacingAndGlyphs">44</text>
<text x="265.7" y="416.0" font-family="'Liberation Serif', serif" font-size="5.8" font-weight="normal" fill="#606060" text-anchor="middle" textLength="4.60" lengthAdjust="spacingAndGlyphs">46</text>
<text x="275.7" y="416.0" font-family="'Liberation Serif', serif" font-size="5.8" font-weight="normal" fill="#606060" text-anchor="middle" textLength="4.60" lengthAdjust="spacingAndGlyphs">48</text>
<text x="285.8" y="416.0" font-family="'Liberation Serif', serif" font-size="5.8" font-weight="normal" fill="#606060" text-anchor="middle" textLength="4.60" lengthAdjust="spacingAndGlyphs">50</text>
<text x="295.8" y="416.0" font-family="'Liberation Serif', serif" font-size="5.8" font-weight="normal" fill="#606060" text-anchor="middle" textLength="4.60" lengthAdjust="spacingAndGlyphs">52</text>
<text x="305.8" y="416.0" font-family="'Liberation Serif', serif" font-size="5.8" font-weight="normal" fill="#606060" text-anchor="middle" textLength="4.60" lengthAdjust="spacingAndGlyphs">54</text>
<text x="315.9" y="416.0" font-family="'Liberation Serif', serif" font-size="5.8" font-weight="normal" fill="#606060" text-anchor="middle" textLength="4.60" lengthAdjust="spacingAndGlyphs">56</text>
<text x="325.9" y="416.0" font-family="'Liberation Serif', serif" font-size="5.8" font-weight="normal" fill="#606060" text-anchor="middle" textLength="4.60" lengthAdjust="spacingAndGlyphs">58</text>
<text x="335.9" y="416.0" font-family="'Liberation Serif', serif" font-size="5.8" font-weight="normal" fill="#606060" text-anchor="middle" textLength="4.60" lengthAdjust="spacingAndGlyphs">60</text>
<text x="345.9" y="416.0" font-family="'Liberation Serif', serif" font-size="5.8" font-weight="normal" fill="#606060" text-anchor="middle" textLength="4.60" lengthAdjust="spacingAndGlyphs">62</text>
<text x="356.0" y="416.0" font-family="'Liberation Serif', serif" font-size="5.8" font-weight="normal" fill="#606060" text-anchor="middle" textLength="4.60" lengthAdjust="spacingAndGlyphs">64</text>
<text x="366.0" y="416.0" font-family="'Liberation Serif', serif" font-size="5.8" font-weight="normal" fill="#606060" text-anchor="middle" textLength="4.60" lengthAdjust="spacingAndGlyphs">66</text>
<text x="376.0" y="416.0" font-family="'Liberation Serif', serif" font-size="5.8" font-weight="normal" fill="#606060" text-anchor="middle" textLength="4.60" lengthAdjust="spacingAndGlyphs">68</text>
<text x="386.1" y="416.0" font-family="'Liberation Serif', serif" font-size="5.8" font-weight="normal" fill="#606060" text-anchor="middle" textLength="4.60" lengthAdjust="spacingAndGlyphs">70</text>
<text x="396.1" y="416.0" font-family="'Liberation Serif', serif" font-size="5.8" font-weight="normal" fill="#606060" text-anchor="middle" textLength="4.60" lengthAdjust="spacingAndGlyphs">72</text>
<text x="406.1" y="416.0" font-family="'Liberation Serif', serif" font-size="5.8" font-weight="normal" fill="#606060" text-anchor="middle" textLength="4.60" lengthAdjust="spacingAndGlyphs">74</text>
<text x="416.1" y="416.0" font-family="'Liberation Serif', serif" font-size="5.8" font-weight="normal" fill="#606060" text-anchor="middle" textLength="4.60" lengthAdjust="spacingAndGlyphs">76</text>
<text x="426.2" y="416.0" font-family="'Liberation Serif', serif" font-size="5.8" font-weight="normal" fill="#606060" text-anchor="middle" textLength="4.60" lengthAdjust="spacingAndGlyphs">78</text>
<text x="436.2" y="416.0" font-family="'Liberation Serif', serif" font-size="5.8" font-weight="normal" fill="#606060" text-anchor="middle" textLength="4.60" lengthAdjust="spacingAndGlyphs">80</text>
<text x="207.2" y="420.9" font-family="'Liberation Serif', serif" font-size="5.8" font-weight="normal" fill="#606060" text-anchor="start" textLength="64.5" lengthAdjust="spacingAndGlyphs">Counts (%) vs. Acquisition Time (min)</text>
<line x1="36" y1="397.8" x2="50" y2="397.8" stroke="#f5d2a8" stroke-width="0.8"/>
<line x1="50.2" y1="302" x2="50.2" y2="408" stroke="#c8c8c8" stroke-width="1.4"/>
<circle cx="50.2" cy="303.3" r="1.6" fill="none" stroke="#c8c8c8" stroke-width="0.6"/>
<path d="M102.80,393.99 L103.20,386.97 L103.60,369.98 L104.30,306.80 L105,369.35 L105.40,385.73 L105.80,391.98 Z" fill="#d4a4dc" stroke="none"/>
<path d="M50,397.70 L199.40,397.69 L200.20,397.58 L200.60,397.37 L201,396.84 L201.20,396.37 L201.60,394.74 L202.20,390.80 L202.80,394.74 L203.20,396.37 L203.60,397.16 L204,397.50 L204.40,397.63 L205.40,397.70 L234.60,397.65 L235,397.54 L235.40,397.23 L235.80,396.39 L236.20,394.33 L236.40,392.47 L236.80,386.08 L237.40,370.60 L238,386.08 L238.20,389.79 L238.60,394.33 L238.80,395.58 L239.20,396.91 L239.40,397.23 L239.80,397.54 L240.40,397.45 L240.80,396.88 L241.20,394.87 L241.60,388.84 L241.80,382.68 L242.20,358.98 L242.70,309.30 L243.20,358.98 L243.60,382.68 L243.80,388.84 L244.20,394.87 L244.60,396.88 L244.80,397.27 L245.20,397.59 L245.60,397.70 L254.40,397.70 L255.20,397.50 L255.60,397.06 L255.80,396.58 L256.20,394.49 L256.40,392.44 L256.80,384.59 L257.60,348.80 L258.20,377.93 L258.60,389.28 L258.80,392.44 L259.20,395.79 L259.60,397.06 L259.80,397.34 L260.20,397.59 L260.80,397.70 L270.40,397.70 L272,397.57 L272.60,397.15 L273,396.42 L273.80,393.30 L274.40,395.81 L274.80,396.85 L275,397.15 L275.40,397.49 L275.80,397.62 L276.60,397.69 L442,397.70" fill="none" stroke="#eeb86c" stroke-width="0.95"/>
<path d="M50,397.70 L135.60,397.68 L136.20,397.57 L136.60,397.35 L137,396.81 L137.20,396.31 L137.60,394.61 L138.20,390.50 L138.80,394.61 L139.20,396.31 L139.60,397.14 L140,397.49 L140.40,397.63 L141.40,397.70 L161.60,397.70 L162.80,397.63 L163.20,397.50 L163.60,397.17 L164,396.41 L164.40,394.93 L164.90,392.30 L165.40,394.93 L165.80,396.41 L166.20,397.17 L166.60,397.50 L167.20,397.66 L168.20,397.70 L176.20,397.70 L176.60,397.51 L177,396.92 L177.40,394.78 L177.80,387.92 L178,380.69 L178.40,352.50 L178.80,309.50 L179.40,369.01 L179.80,387.27 L180,391.35 L180.20,393.56 L180.40,394.65 L180.60,395.14 L181.20,395.66 L182.20,397.05 L182.60,397.43 L183,397.61 L184.60,397.70 L442,397.70" fill="none" stroke="#c47888" stroke-width="0.95"/>
<path d="M50,397.70 L79.20,397.70 L79.80,397.65 L80.20,397.51 L80.60,397.06 L81,395.73 L81.40,392.27 L81.80,384.74 L82.20,374.20 L82.60,384.74 L83,392.27 L83.40,395.73 L83.60,396.57 L84,397.35 L84.40,397.60 L85.20,397.70 L101.40,397.70 L101.80,397.52 L102.20,397.06 L102.60,395.59 L103,391.31 L103.40,380.18 L103.80,355.49 L104.30,306.80 L105,369.35 L105.20,379.27 L105.60,389.70 L105.80,391.98 L106,393.18 L106.20,393.75 L106.40,393.99 L107,394.35 L108.60,397.04 L109,397.40 L109.40,397.59 L111.40,397.70 L442,397.70" fill="none" stroke="#ac6cc4" stroke-width="0.9"/>
<defs><linearGradient id="gC" gradientUnits="userSpaceOnUse" x1="50" y1="0" x2="442" y2="0"><stop offset="0" stop-color="#a85a6a"/><stop offset="0.45" stop-color="#c06a5a"/><stop offset="0.7" stop-color="#e0905a"/><stop offset="1" stop-color="#e89a60"/></linearGradient></defs>
<path d="M50,397.81 L50.25,397.73 L50.50,397.98 L50.75,397.69 L51,397.92 L51.50,397.68 L51.75,397.90 L52,397.67 L52.25,397.87 L52.50,397.68 L52.75,397.70 L53.25,398.06 L53.50,397.71 L53.75,397.76 L54.25,398.12 L54.75,397.85 L55,398.14 L55.25,397.67 L55.50,398.08 L55.75,397.79 L56,397.72 L56.50,397.80 L56.75,398.06 L57,397.74 L57.25,397.94 L57.50,397.97 L57.75,397.84 L58,397.92 L58.25,397.68 L58.50,397.68 L58.75,397.75 L59,397.99 L59.50,397.81 L59.75,397.94 L60.25,397.80 L60.50,398.05 L60.75,398 L61,397.77 L61.25,397.94 L61.50,397.91 L61.75,398.09 L62,398.01 L62.25,397.79 L62.50,398.14 L62.75,397.71 L63.25,398.03 L63.50,397.73 L63.75,397.89 L64,397.67 L64.25,397.98 L64.50,398.03 L64.75,397.94 L65,398.09 L65.25,397.81 L65.50,398 L66.25,397.88 L66.50,398.07 L66.75,398.12 L67,397.89 L67.25,397.98 L67.50,397.68 L67.75,398 L68,397.97 L68.25,398.15 L68.50,398.06 L68.75,397.79 L69.25,397.98 L69.50,397.66 L69.75,397.88 L70,397.73 L70.50,397.68 L70.75,398.03 L71,397.71 L71.50,397.85 L71.75,398.09 L72,397.69 L72.75,398.09 L73.25,398.08 L73.50,397.79 L74,397.83 L74.25,398.09 L74.50,398.13 L74.75,397.73 L75.50,397.77 L76,397.94 L76.50,397.65 L76.75,397.86 L77,397.83 L77.50,398.13 L78,397.91 L78.50,397.99 L78.75,397.68 L79,398.10 L79.75,398.05 L80,397.85 L80.25,397.85 L80.50,397.70 L80.75,397.97 L81,397.68 L82,397.82 L82.50,397.65 L83,397.70 L83.25,397.83 L83.50,397.66 L83.75,398.09 L84.25,397.72 L85,397.83 L85.25,397.71 L85.50,398.07 L85.75,398.15 L86,397.88 L86.25,397.89 L86.50,397.69 L87,397.82 L87.25,397.78 L87.50,398.06 L87.75,397.73 L88,397.66 L88.25,398.13 L88.75,397.72 L89,397.92 L89.25,397.66 L89.75,398.14 L90.25,398 L90.50,397.78 L90.75,397.83 L91,397.73 L91.25,398.04 L91.50,397.92 L91.75,398.04 L92,397.81 L92.25,397.76 L92.50,398.06 L92.75,398.14 L93.75,398.02 L94,397.76 L94.25,397.91 L94.75,397.66 L95,397.66 L95.25,397.79 L95.50,397.78 L96,398.13 L96.25,397.87 L96.50,398.12 L96.75,398.14 L97,398.13 L97.25,397.83 L97.50,397.76 L98.25,397.75 L98.75,398.10 L99,398.07 L99.25,397.89 L99.75,398.05 L100,397.69 L100.25,397.98 L100.50,398.10 L101,398.03 L101.50,397.74 L101.75,398.04 L102,397.82 L102.25,398.05 L102.50,398.14 L102.75,397.85 L103,397.85 L103.25,398.12 L103.50,398.01 L103.75,397.74 L104,397.71 L104.25,397.73 L104.50,398.10 L104.75,398.05 L105,397.72 L105.25,398.06 L105.50,398.14 L106,397.83 L106.25,397.92 L106.50,397.72 L106.75,397.66 L107,398.14 L107.50,397.91 L107.75,398.12 L108,397.87 L108.25,398.09 L108.50,398.06 L108.75,397.76 L109.50,397.77 L109.75,397.94 L110,397.78 L110.25,397.86 L110.50,397.72 L110.75,398.11 L111,397.83 L111.50,397.94 L111.75,398.10 L112,397.86 L112.25,398.11 L112.50,397.90 L113,397.91 L113.25,397.66 L113.50,397.87 L114,397.65 L114.25,398.05 L114.50,397.74 L115,398.01 L115.50,397.81 L116.25,398.04 L116.50,397.70 L116.75,397.93 L117,397.77 L117.25,397.79 L117.50,398.04 L117.75,397.90 L118.50,398.11 L118.75,397.87 L119.75,398 L120,397.88 L120.50,397.89 L120.75,398.12 L121,398 L121.50,398.12 L121.75,397.78 L122.25,398.12 L122.50,398.07 L122.75,397.72 L123,397.71 L123.25,397.87 L123.50,397.69 L123.75,397.77 L124,397.69 L124.25,397.98 L124.75,398.10 L125,397.73 L125.25,398.01 L125.50,397.98 L125.75,397.72 L126,398.09 L126.25,398.13 L126.50,397.76 L126.75,398.13 L127,397.85 L127.25,397.89 L127.50,398.14 L127.75,398.07 L128,397.73 L128.50,397.91 L129,397.75 L129.25,397.81 L129.50,398.01 L129.75,397.66 L130,397.93 L130.25,397.87 L130.50,397.66 L131,397.96 L131.25,397.91 L131.50,397.68 L131.75,398.14 L132,398.04 L132.25,398.14 L132.50,397.70 L132.75,397.78 L133,397.67 L133.25,398.04 L133.50,397.79 L133.75,397.71 L134.25,398.11 L134.50,398.06 L134.75,397.78 L135,397.72 L135.25,398.11 L135.50,397.94 L135.75,398 L136,397.69 L136.25,397.68 L136.50,397.99 L137,397.69 L137.25,398.12 L137.50,397.97 L137.75,398.05 L138,397.69 L138.25,398.08 L138.50,397.68 L138.75,398.08 L139,397.88 L139.25,397.82 L139.75,398.11 L140,397.78 L140.25,397.71 L140.50,397.91 L141,397.70 L141.50,397.68 L142.25,397.80 L142.50,398.03 L142.75,397.79 L143,397.90 L143.25,397.74 L143.50,397.82 L143.75,397.66 L144,397.78 L144.25,397.66 L144.50,398.02 L145,397.74 L145.50,398.12 L145.75,397.70 L146,398.06 L146.25,397.87 L146.50,397.90 L146.75,398.07 L147,397.85 L147.75,398.14 L148,397.82 L148.25,398.07 L149.25,397.82 L149.50,397.68 L150,397.69 L150.25,398.02 L150.50,397.78 L151,397.69 L151.25,398.07 L151.50,398.09 L152,397.79 L152.75,397.88 L153,397.73 L153.25,397.87 L153.50,397.78 L153.75,398.13 L154,398.14 L154.50,397.77 L154.75,398.13 L155,397.80 L155.25,397.83 L155.50,397.65 L155.75,397.84 L156.25,397.90 L156.50,397.75 L156.75,397.90 L157,397.65 L157.25,397.78 L157.50,397.69 L157.75,397.85 L158,397.67 L158.25,397.66 L158.50,397.80 L158.75,397.77 L159,397.94 L160.25,398.09 L160.50,397.84 L160.75,397.81 L161,398.14 L161.25,397.72 L161.50,398.01 L161.75,397.97 L162,397.67 L162.25,398.07 L162.50,398.10 L162.75,397.96 L163.25,398.06 L163.50,397.72 L163.75,397.91 L164,397.90 L164.25,398.07 L164.75,398.06 L165,397.94 L165.25,398.10 L165.75,398 L166.25,397.67 L166.75,397.83 L167,397.70 L167.25,398.07 L167.50,397.93 L168.25,397.99 L168.50,397.89 L168.75,397.65 L169,398.05 L169.50,397.90 L170,397.98 L170.25,397.68 L170.50,398.02 L170.75,397.78 L171,397.69 L171.50,398.01 L171.75,397.75 L172.25,398.14 L172.50,397.90 L172.75,397.84 L173.50,398.03 L174,397.97 L174.25,397.69 L174.75,397.78 L175,398.02 L175.25,397.80 L175.50,397.93 L175.75,397.66 L176.25,397.78 L176.50,397.99 L176.75,398 L177,397.99 L177.25,397.80 L177.50,397.91 L178,397.88 L178.25,397.71 L178.50,398.10 L178.75,397.75 L179,398.14 L179.25,398.12 L179.50,397.66 L180,398.06 L180.25,398.13 L180.50,397.87 L180.75,397.78 L181,397.75 L181.25,398.12 L181.50,397.76 L181.75,397.94 L182,397.72 L182.50,398.13 L182.75,397.72 L183,398.06 L183.25,397.90 L183.50,398.09 L183.75,398 L184,397.77 L184.25,398.10 L184.75,397.66 L185,397.65 L185.25,397.90 L186,397.72 L186.50,397.81 L186.75,398.07 L187,397.65 L187.25,398.03 L187.50,398.07 L187.75,397.71 L188,398.11 L188.25,398.01 L188.50,398.10 L188.75,397.79 L189.25,397.85 L189.50,398.15 L190,397.83 L190.25,397.86 L190.75,397.67 L191,397.70 L191.25,398.07 L191.50,397.79 L191.75,398.12 L192,397.77 L192.50,397.91 L192.75,397.74 L193,397.84 L193.25,398.13 L194,397.97 L194.25,398.11 L194.50,398.12 L194.75,397.92 L195,398.01 L195.25,397.67 L195.50,398.02 L195.75,397.88 L196,398.03 L196.75,397.67 L197,398.11 L197.25,397.71 L197.50,397.89 L198,397.80 L198.50,398.14 L198.75,397.78 L199,397.98 L199.25,397.80 L199.50,397.93 L200,397.73 L200.25,397.73 L200.50,397.75 L200.75,398.10 L201.25,397.76 L201.50,398.10 L201.75,398.15 L202.25,397.72 L202.75,397.70 L203,397.82 L203.25,397.70 L203.75,397.78 L204.25,398.09 L204.75,397.86 L205.25,397.91 L206,397.68 L206.25,397.79 L206.50,398.13 L206.75,397.71 L207.50,398.08 L207.75,397.76 L208.25,397.77 L208.75,397.87 L209,398.13 L209.50,398.09 L209.75,397.66 L210,397.67 L210.25,398 L210.50,398.10 L210.75,397.89 L211,397.94 L211.25,397.65 L211.75,398.11 L212.50,398.14 L212.75,397.77 L213,397.70 L213.25,397.73 L214,398.12 L214.50,397.97 L214.75,398.03 L215,397.88 L215.25,397.93 L215.50,397.67 L215.75,398.04 L216,397.77 L216.25,398.11 L217,397.71 L217.75,398 L218,397.71 L218.25,397.69 L218.50,397.91 L218.75,397.94 L219.25,397.76 L219.50,397.95 L219.75,397.66 L220.25,397.88 L220.50,398.13 L220.75,397.97 L221,398.09 L221.50,397.77 L221.75,397.77 L222,398.13 L222.75,397.66 L223,397.90 L223.25,397.99 L223.75,397.78 L224.25,398.11 L224.50,397.76 L224.75,397.67 L225.50,397.99 L225.75,397.75 L226,398.05 L226.25,398.02 L226.75,397.75 L227,398.13 L227.25,397.81 L227.50,398.06 L227.75,397.77 L228,397.76 L228.25,398.03 L228.50,397.80 L228.75,398.13 L229.25,397.74 L229.50,397.76 L230.25,398.12 L230.50,397.72 L230.75,397.85 L231,397.76 L231.25,398.14 L231.50,397.72 L231.75,397.68 L232,397.68 L232.50,398.10 L233,398.02 L233.25,398.15 L233.50,398.12 L233.75,397.81 L234,397.74 L234.25,398.12 L234.50,398.02 L234.75,397.67 L235,397.98 L235.25,397.84 L235.75,397.82 L236.25,397.65 L236.75,397.83 L237,398.13 L237.25,397.71 L237.50,398.13 L237.75,397.75 L238,397.83 L238.25,398.06 L238.50,398.06 L239,397.67 L239.25,397.89 L239.50,397.84 L239.75,398.11 L240,397.75 L240.25,397.83 L240.50,398.10 L240.75,397.67 L241.25,398.06 L241.50,398.03 L241.75,397.67 L242,397.67 L242.25,397.68 L242.50,398.11 L242.75,397.78 L243,398.02 L243.25,398.10 L243.50,397.82 L243.75,397.79 L244,398.13 L244.50,397.78 L244.75,398.01 L245,397.81 L245.50,397.65 L245.75,398.03 L246,398.11 L246.25,397.97 L246.50,398.11 L246.75,397.64 L247.50,397.92 L247.75,397.73 L248.50,395.57 L249,392.01 L249.50,386.15 L250.25,394.20 L250.50,395.66 L250.75,396.49 L251,397.08 L251.50,397.83 L251.75,397.58 L252,397.70 L252.25,398 L252.50,397.76 L253,397.67 L253.25,397.93 L253.50,397.81 L253.75,398.14 L254.25,398.14 L254.50,397.78 L254.75,397.69 L255,397.70 L255.50,398 L256,397.77 L256.50,397.96 L257.25,398.07 L257.50,397.98 L257.75,397.71 L258,398.07 L258.25,397.80 L258.50,397.93 L258.75,397.84 L259,398.02 L259.25,397.75 L260,397.73 L260.25,398.09 L260.75,397.81 L261,397.85 L261.25,398.15 L261.75,397.77 L262,398.05 L262.25,397.98 L262.50,398.15 L262.75,397.70 L263.25,398.06 L263.75,398.11 L264,397.67 L264.25,397.80 L264.50,397.71 L264.75,397.74 L265,398.14 L265.25,397.94 L265.50,398.12 L265.75,397.84 L266,398.08 L266.50,397.78 L266.75,398.04 L267,398.12 L267.25,397.70 L267.50,397.95 L267.75,397.96 L268,397.76 L268.25,397.83 L268.50,397.72 L269,397.78 L269.25,397.95 L269.50,397.98 L270,397.66 L270.50,397.99 L270.75,397.74 L271.25,397.75 L271.50,398.05 L272,397.68 L273,397.97 L273.25,397.70 L273.50,397.73 L273.75,398 L274,397.85 L274.50,397.80 L274.75,398.13 L275,397.81 L275.25,397.93 L275.50,397.83 L275.75,397.86 L276,398.08 L276.25,398.15 L276.50,397.83 L276.75,397.75 L277,398.01 L277.25,397.75 L277.50,397.65 L277.75,398.10 L278,397.86 L278.25,398.06 L278.50,397.85 L278.75,398.09 L279.25,397.73 L279.50,397.66 L279.75,397.93 L280.25,398.10 L280.50,397.69 L280.75,397.96 L281,397.84 L281.25,397.90 L281.50,397.72 L282,397.91 L282.25,398.11 L282.50,397.70 L283.25,398.13 L283.50,397.75 L283.75,397.71 L284,398.12 L284.25,398.14 L284.75,397.68 L285,398.11 L285.25,397.84 L285.50,398.10 L285.75,397.96 L286,398.06 L286.25,397.73 L286.50,398.04 L286.75,397.76 L287.25,398.07 L287.50,398.06 L287.75,397.74 L288.50,397.91 L289,397.71 L289.75,398.10 L290,397.67 L290.25,397.92 L290.50,398.01 L290.75,397.62 L291,397.96 L291.25,397.49 L291.50,397.50 L292,396.32 L292.80,390.76 L293.50,395.80 L294,397.37 L294.25,397.60 L294.50,397.62 L294.75,397.96 L295,398.01 L295.50,397.73 L295.75,397.89 L296,397.70 L296.25,397.71 L296.50,397.87 L296.75,397.70 L297,397.87 L297.25,397.91 L297.50,397.67 L297.75,397.97 L298,397.69 L298.25,398.02 L298.50,398.04 L299,397.68 L299.25,397.90 L299.50,397.84 L299.75,398.13 L300,397.72 L300.25,398.08 L300.50,398.15 L300.75,398.02 L301,398.06 L301.25,397.75 L301.50,398.14 L301.75,397.90 L302,398.13 L302.25,398.11 L302.50,397.73 L302.75,398.04 L303,398.12 L303.25,397.68 L303.75,398.03 L304,397.73 L304.25,398.10 L304.50,397.79 L304.75,398.06 L305,397.72 L305.50,398.11 L305.75,397.75 L306.25,397.90 L306.75,397.67 L307.25,397.73 L307.50,398.12 L307.75,397.99 L308,398.10 L308.25,397.73 L308.50,398.04 L308.75,397.71 L309,397.92 L309.25,397.97 L309.50,397.83 L309.75,398.08 L310,397.92 L310.25,397.92 L310.50,398.05 L310.75,397.64 L311,398.05 L311.50,397.59 L311.75,397.64 L312,397.17 L312.25,397.24 L312.75,396.12 L313,395.93 L313.50,396.46 L313.75,397.12 L314,397.06 L314.25,397.65 L314.50,397.52 L315,398.04 L315.25,397.88 L315.50,397.95 L316,397.64 L316.50,397.72 L316.75,397.96 L317,397.87 L317.25,397.91 L317.50,398.10 L317.75,397.72 L318,397.76 L318.25,397.98 L318.50,397.66 L318.75,397.65 L319,397.83 L319.25,397.70 L319.50,397.83 L319.75,397.76 L320,397.94 L320.25,397.94 L320.50,397.75 L320.75,397.96 L321.25,397.72 L321.50,398.12 L321.75,397.77 L322.25,397.70 L322.50,397.97 L322.75,398.09 L323.75,397.66 L324,397.97 L324.50,397.83 L324.75,397.97 L325,397.87 L325.25,398.12 L325.75,397.77 L326,398.10 L326.25,397.67 L326.50,397.92 L327.25,397.68 L327.50,398.04 L327.75,397.66 L328.25,398.12 L328.50,397.72 L328.75,397.75 L329,397.95 L329.25,397.90 L329.75,398.06 L330,397.74 L330.50,397.80 L330.75,397.67 L331,398.09 L331.50,398.01 L331.75,397.65 L332,398.07 L332.50,397.88 L332.75,398.02 L333.25,397.76 L333.50,397.70 L333.75,397.77 L334,397.67 L334.50,398.02 L335,398.07 L335.25,398.01 L335.50,397.78 L335.75,397.93 L336,397.87 L336.25,398.04 L336.75,397.78 L337.25,398.13 L337.50,397.76 L337.75,398.09 L338,397.66 L338.25,397.78 L338.50,397.77 L338.75,398.02 L339,398.12 L339.50,397.81 L339.75,398.09 L340,397.81 L340.25,397.77 L340.50,398.10 L340.75,397.97 L341.25,397.98 L341.50,398.14 L341.75,397.88 L342,398.07 L342.25,398 L342.50,398.08 L342.75,397.87 L343,398.01 L343.75,397.76 L344,397.96 L344.25,397.69 L344.50,398.11 L344.75,397.72 L345,397.66 L345.25,397.70 L345.50,398.11 L345.75,397.82 L346.25,397.66 L346.50,397.67 L346.75,398 L347.50,398.02 L347.75,397.68 L348,397.95 L348.25,397.83 L348.50,398.06 L349,398.10 L349.25,397.68 L349.50,398.08 L350,398.12 L350.25,397.70 L350.50,397.75 L351,397.67 L351.25,398.07 L351.75,397.97 L352,398.06 L352.75,397.70 L353,397.70 L353.25,398.03 L353.50,397.75 L354,397.86 L354.25,397.66 L354.75,397.79 L355,398.01 L355.25,397.83 L355.50,397.81 L355.75,398.13 L356,397.90 L356.25,398.08 L356.50,397.96 L356.75,397.67 L357,397.86 L357.25,397.87 L357.50,398.04 L357.75,397.82 L358,398 L358.50,397.76 L358.75,398.08 L359,397.70 L359.25,398.06 L359.50,397.74 L359.75,397.65 L360.50,398.14 L360.75,397.65 L361,397.90 L361.25,397.90 L361.50,398.05 L361.75,397.74 L362,397.90 L362.25,397.82 L362.50,398.07 L362.75,397.78 L363,398.12 L363.25,397.79 L363.50,397.76 L363.75,398 L364.25,397.70 L364.50,397.97 L364.75,397.69 L365,398.04 L365.50,398.04 L366,397.83 L366.50,397.85 L366.75,398.10 L367,397.69 L367.25,398.09 L367.50,397.66 L368,397.78 L368.25,398.10 L368.50,397.90 L368.75,397.84 L369,398.09 L369.25,397.77 L370,398.03 L370.25,398.03 L371.25,397.73 L371.50,398.07 L371.75,397.98 L372,398.02 L372.25,397.73 L372.75,398.04 L373.25,397.71 L373.75,398.09 L374,397.77 L374.50,397.80 L375,398.07 L375.25,397.73 L376.25,397.91 L376.50,397.73 L376.75,397.81 L377,397.74 L377.25,398.14 L377.50,398.01 L377.75,397.70 L378,398.13 L378.25,397.70 L378.75,398.14 L379.25,398.02 L379.75,397.75 L380,397.97 L380.25,397.70 L380.75,397.84 L381,397.67 L381.50,398.05 L382,397.90 L382.25,397.97 L382.75,397.72 L383,397.95 L383.25,397.84 L383.75,398.07 L384,397.81 L384.50,397.88 L385,397.39 L385.25,397.45 L385.50,397.25 L386.30,395.89 L387.25,397.30 L387.50,397.26 L388,397.86 L388.50,397.90 L388.75,397.73 L389.50,397.95 L389.75,397.85 L390.25,398.11 L390.50,397.74 L390.75,397.98 L391,398.04 L391.25,397.84 L391.50,397.89 L391.75,398.13 L392,397.65 L392.25,397.88 L392.50,397.64 L392.75,397.87 L393,397.82 L393.75,396.41 L394.40,394.01 L394.75,395.50 L395.50,397.52 L395.75,397.41 L396,397.80 L396.25,397.75 L396.50,397.98 L396.75,397.68 L397,398.13 L397.50,397.68 L398,397.85 L398.25,397.66 L398.50,397.86 L398.75,397.86 L399,398 L399.25,397.83 L399.75,397.76 L400,398.02 L400.25,398.12 L400.75,397.76 L401,398.05 L401.25,397.85 L401.75,397.71 L402,398.04 L402.25,398.05 L402.75,397.88 L403,397.93 L403.25,397.76 L403.50,398.13 L403.75,397.83 L404.25,398.06 L404.50,398.06 L405,397.80 L405.25,397.92 L405.50,397.71 L405.75,398.07 L406,397.83 L406.25,398.08 L406.50,397.78 L407.25,397.86 L407.75,397.65 L408,398.01 L408.25,397.79 L409.75,397.98 L410,397.83 L410.25,398.11 L410.50,398.08 L410.75,397.68 L411,398.06 L411.25,398.10 L411.50,398.04 L411.75,397.72 L412,398.07 L412.25,397.97 L412.50,397.66 L412.75,397.66 L413,398.13 L413.75,397.70 L414.25,397.77 L414.50,398.04 L415,397.73 L415.25,398.10 L415.50,398.05 L415.75,397.73 L416,398.10 L416.25,397.95 L416.50,398.04 L416.75,397.98 L417,398.10 L417.50,398.07 L417.75,397.75 L418,398 L418.25,397.92 L418.50,398.02 L418.75,397.87 L419,398.09 L419.50,397.78 L420,397.72 L420.25,397.90 L420.50,397.68 L420.75,397.88 L421,397.72 L421.25,397.90 L421.75,397.92 L422,398.08 L422.25,397.65 L422.50,398.07 L422.75,397.88 L423.50,398.07 L423.75,397.84 L424,397.86 L424.25,398.13 L424.50,397.69 L424.75,397.97 L425,397.97 L425.25,397.66 L425.50,397.95 L426,398.12 L426.25,397.82 L426.50,398.14 L426.75,397.91 L427,397.89 L427.25,398.10 L427.50,397.67 L427.75,398.01 L428.25,397.82 L428.50,398.08 L428.75,397.83 L429.50,398.04 L429.75,397.76 L430.75,398.06 L431,397.80 L431.25,398.06 L431.50,397.85 L431.75,397.90 L432,397.79 L432.50,398.14 L432.75,397.98 L433,398.05 L433.25,397.82 L433.75,397.80 L434.50,398.04 L434.75,397.67 L435,398.01 L435.25,398.09 L435.75,397.67 L436,397.80 L436.25,397.65 L436.50,397.74 L436.75,398.11 L437,397.95 L437.75,398.10 L438,397.96 L439.25,397.99 L439.50,397.76 L439.75,397.98 L440,397.88 L440.25,398.03 L440.50,397.70 L441,397.67 L441.25,398.04 L441.50,398.11 L442,397.83" fill="none" stroke="url(#gC)" stroke-width="1.1"/>
<path d="M442.5,291.4 L442.5,409.6 L35.3,409.6" fill="none" stroke="#5e72aa" stroke-width="1.25"/>
<path d="M35.3,409.6 L35.3,291.4 L442.5,291.4" fill="none" stroke="#7490cc" stroke-width="1.25"/>
<text x="102.2" y="305.8" font-family="'Liberation Sans', sans-serif" font-size="9" font-weight="bold" fill="#000" text-anchor="middle">1</text>
<text x="177.6" y="306.7" font-family="'Liberation Sans', sans-serif" font-size="9" font-weight="bold" fill="#000" text-anchor="middle">2</text>
<text x="241.4" y="306.7" font-family="'Liberation Sans', sans-serif" font-size="9" font-weight="bold" fill="#000" text-anchor="middle">5</text>
<text x="296.3" y="320.2" font-family="'Liberation Sans', sans-serif" font-size="11" font-weight="bold" fill="#000" text-anchor="start" textLength="53.5" lengthAdjust="spacingAndGlyphs">(+)-ESI-MS</text>
<text x="3.8" y="434.1" font-family="'Liberation Serif', serif" font-size="13.2" font-weight="normal" fill="#000" text-anchor="start">D</text>
<text x="32.4" y="430.8" font-family="'Liberation Serif', serif" font-size="5.2" fill="#4a4a4a" text-anchor="end">x10<tspan dy="-2" font-size="3.5">7</tspan></text>
<text x="33.1" y="443.4" font-family="'Liberation Serif', serif" font-size="5.6" font-weight="normal" fill="#606060" text-anchor="end" textLength="2.50" lengthAdjust="spacingAndGlyphs">1</text>
<line x1="33.2" y1="441.3" x2="34.4" y2="441.3" stroke="#888" stroke-width="0.6"/>
<text x="33.1" y="451.74" font-family="'Liberation Serif', serif" font-size="5.6" font-weight="normal" fill="#606060" text-anchor="end" textLength="6.25" lengthAdjust="spacingAndGlyphs">0.9</text>
<line x1="33.2" y1="449.6" x2="34.4" y2="449.6" stroke="#888" stroke-width="0.6"/>
<text x="33.1" y="460.08" font-family="'Liberation Serif', serif" font-size="5.6" font-weight="normal" fill="#606060" text-anchor="end" textLength="6.25" lengthAdjust="spacingAndGlyphs">0.8</text>
<line x1="33.2" y1="458.0" x2="34.4" y2="458.0" stroke="#888" stroke-width="0.6"/>
<text x="33.1" y="468.42" font-family="'Liberation Serif', serif" font-size="5.6" font-weight="normal" fill="#606060" text-anchor="end" textLength="6.25" lengthAdjust="spacingAndGlyphs">0.7</text>
<line x1="33.2" y1="466.3" x2="34.4" y2="466.3" stroke="#888" stroke-width="0.6"/>
<text x="33.1" y="476.76" font-family="'Liberation Serif', serif" font-size="5.6" font-weight="normal" fill="#606060" text-anchor="end" textLength="6.25" lengthAdjust="spacingAndGlyphs">0.6</text>
<line x1="33.2" y1="474.7" x2="34.4" y2="474.7" stroke="#888" stroke-width="0.6"/>
<text x="33.1" y="485.1" font-family="'Liberation Serif', serif" font-size="5.6" font-weight="normal" fill="#606060" text-anchor="end" textLength="6.25" lengthAdjust="spacingAndGlyphs">0.5</text>
<line x1="33.2" y1="483.0" x2="34.4" y2="483.0" stroke="#888" stroke-width="0.6"/>
<text x="33.1" y="493.44" font-family="'Liberation Serif', serif" font-size="5.6" font-weight="normal" fill="#606060" text-anchor="end" textLength="6.25" lengthAdjust="spacingAndGlyphs">0.4</text>
<line x1="33.2" y1="491.3" x2="34.4" y2="491.3" stroke="#888" stroke-width="0.6"/>
<text x="33.1" y="501.78" font-family="'Liberation Serif', serif" font-size="5.6" font-weight="normal" fill="#606060" text-anchor="end" textLength="6.25" lengthAdjust="spacingAndGlyphs">0.3</text>
<line x1="33.2" y1="499.7" x2="34.4" y2="499.7" stroke="#888" stroke-width="0.6"/>
<text x="33.1" y="510.12" font-family="'Liberation Serif', serif" font-size="5.6" font-weight="normal" fill="#606060" text-anchor="end" textLength="6.25" lengthAdjust="spacingAndGlyphs">0.2</text>
<line x1="33.2" y1="508.0" x2="34.4" y2="508.0" stroke="#888" stroke-width="0.6"/>
<text x="33.1" y="518.46" font-family="'Liberation Serif', serif" font-size="5.6" font-weight="normal" fill="#606060" text-anchor="end" textLength="6.25" lengthAdjust="spacingAndGlyphs">0.1</text>
<line x1="33.2" y1="516.4" x2="34.4" y2="516.4" stroke="#888" stroke-width="0.6"/>
<text x="33.1" y="526.8" font-family="'Liberation Serif', serif" font-size="5.6" font-weight="normal" fill="#606060" text-anchor="end" textLength="2.50" lengthAdjust="spacingAndGlyphs">0</text>
<line x1="33.2" y1="524.7" x2="34.4" y2="524.7" stroke="#888" stroke-width="0.6"/>
<text x="33.1" y="535.14" font-family="'Liberation Serif', serif" font-size="5.6" font-weight="normal" fill="#606060" text-anchor="end" textLength="8.12" lengthAdjust="spacingAndGlyphs">-0.1</text>
<line x1="33.2" y1="533.0" x2="34.4" y2="533.0" stroke="#888" stroke-width="0.6"/>
<text x="45.1" y="542.0" font-family="'Liberation Serif', serif" font-size="5.8" font-weight="normal" fill="#606060" text-anchor="middle" textLength="2.30" lengthAdjust="spacingAndGlyphs">2</text>
<line x1="45.1" y1="536" x2="45.1" y2="537.4" stroke="#999" stroke-width="0.5"/>
<text x="55.1" y="542.0" font-family="'Liberation Serif', serif" font-size="5.8" font-weight="normal" fill="#606060" text-anchor="middle" textLength="2.30" lengthAdjust="spacingAndGlyphs">4</text>
<line x1="55.1" y1="536" x2="55.1" y2="537.4" stroke="#999" stroke-width="0.5"/>
<text x="65.2" y="542.0" font-family="'Liberation Serif', serif" font-size="5.8" font-weight="normal" fill="#606060" text-anchor="middle" textLength="2.30" lengthAdjust="spacingAndGlyphs">6</text>
<line x1="65.2" y1="536" x2="65.2" y2="537.4" stroke="#999" stroke-width="0.5"/>
<text x="75.2" y="542.0" font-family="'Liberation Serif', serif" font-size="5.8" font-weight="normal" fill="#606060" text-anchor="middle" textLength="2.30" lengthAdjust="spacingAndGlyphs">8</text>
<line x1="75.2" y1="536" x2="75.2" y2="537.4" stroke="#999" stroke-width="0.5"/>
<text x="85.2" y="542.0" font-family="'Liberation Serif', serif" font-size="5.8" font-weight="normal" fill="#606060" text-anchor="middle" textLength="4.60" lengthAdjust="spacingAndGlyphs">10</text>
<line x1="85.2" y1="536" x2="85.2" y2="537.4" stroke="#999" stroke-width="0.5"/>
<text x="95.2" y="542.0" font-family="'Liberation Serif', serif" font-size="5.8" font-weight="normal" fill="#606060" text-anchor="middle" textLength="4.60" lengthAdjust="spacingAndGlyphs">12</text>
<line x1="95.2" y1="536" x2="95.2" y2="537.4" stroke="#999" stroke-width="0.5"/>
<text x="105.3" y="542.0" font-family="'Liberation Serif', serif" font-size="5.8" font-weight="normal" fill="#606060" text-anchor="middle" textLength="4.60" lengthAdjust="spacingAndGlyphs">14</text>
<line x1="105.3" y1="536" x2="105.3" y2="537.4" stroke="#999" stroke-width="0.5"/>
<text x="115.3" y="542.0" font-family="'Liberation Serif', serif" font-size="5.8" font-weight="normal" fill="#606060" text-anchor="middle" textLength="4.60" lengthAdjust="spacingAndGlyphs">16</text>
<line x1="115.3" y1="536" x2="115.3" y2="537.4" stroke="#999" stroke-width="0.5"/>
<text x="125.3" y="542.0" font-family="'Liberation Serif', serif" font-size="5.8" font-weight="normal" fill="#606060" text-anchor="middle" textLength="4.60" lengthAdjust="spacingAndGlyphs">18</text>
<line x1="125.3" y1="536" x2="125.3" y2="537.4" stroke="#999" stroke-width="0.5"/>
<text x="135.4" y="542.0" font-family="'Liberation Serif', serif" font-size="5.8" font-weight="normal" fill="#606060" text-anchor="middle" textLength="4.60" lengthAdjust="spacingAndGlyphs">20</text>
<line x1="135.4" y1="536" x2="135.4" y2="537.4" stroke="#999" stroke-width="0.5"/>
<text x="145.4" y="542.0" font-family="'Liberation Serif', serif" font-size="5.8" font-weight="normal" fill="#606060" text-anchor="middle" textLength="4.60" lengthAdjust="spacingAndGlyphs">22</text>
<line x1="145.4" y1="536" x2="145.4" y2="537.4" stroke="#999" stroke-width="0.5"/>
<text x="155.4" y="542.0" font-family="'Liberation Serif', serif" font-size="5.8" font-weight="normal" fill="#606060" text-anchor="middle" textLength="4.60" lengthAdjust="spacingAndGlyphs">24</text>
<line x1="155.4" y1="536" x2="155.4" y2="537.4" stroke="#999" stroke-width="0.5"/>
<text x="165.4" y="542.0" font-family="'Liberation Serif', serif" font-size="5.8" font-weight="normal" fill="#606060" text-anchor="middle" textLength="4.60" lengthAdjust="spacingAndGlyphs">26</text>
<line x1="165.4" y1="536" x2="165.4" y2="537.4" stroke="#999" stroke-width="0.5"/>
<text x="175.5" y="542.0" font-family="'Liberation Serif', serif" font-size="5.8" font-weight="normal" fill="#606060" text-anchor="middle" textLength="4.60" lengthAdjust="spacingAndGlyphs">28</text>
<line x1="175.5" y1="536" x2="175.5" y2="537.4" stroke="#999" stroke-width="0.5"/>
<text x="185.5" y="542.0" font-family="'Liberation Serif', serif" font-size="5.8" font-weight="normal" fill="#606060" text-anchor="middle" textLength="4.60" lengthAdjust="spacingAndGlyphs">30</text>
<line x1="185.5" y1="536" x2="185.5" y2="537.4" stroke="#999" stroke-width="0.5"/>
<text x="195.5" y="542.0" font-family="'Liberation Serif', serif" font-size="5.8" font-weight="normal" fill="#606060" text-anchor="middle" textLength="4.60" lengthAdjust="spacingAndGlyphs">32</text>
<line x1="195.5" y1="536" x2="195.5" y2="537.4" stroke="#999" stroke-width="0.5"/>
<text x="205.5" y="542.0" font-family="'Liberation Serif', serif" font-size="5.8" font-weight="normal" fill="#606060" text-anchor="middle" textLength="4.60" lengthAdjust="spacingAndGlyphs">34</text>
<line x1="205.5" y1="536" x2="205.5" y2="537.4" stroke="#999" stroke-width="0.5"/>
<text x="215.6" y="542.0" font-family="'Liberation Serif', serif" font-size="5.8" font-weight="normal" fill="#606060" text-anchor="middle" textLength="4.60" lengthAdjust="spacingAndGlyphs">36</text>
<line x1="215.6" y1="536" x2="215.6" y2="537.4" stroke="#999" stroke-width="0.5"/>
<text x="225.6" y="542.0" font-family="'Liberation Serif', serif" font-size="5.8" font-weight="normal" fill="#606060" text-anchor="middle" textLength="4.60" lengthAdjust="spacingAndGlyphs">38</text>
<line x1="225.6" y1="536" x2="225.6" y2="537.4" stroke="#999" stroke-width="0.5"/>
<text x="235.6" y="542.0" font-family="'Liberation Serif', serif" font-size="5.8" font-weight="normal" fill="#606060" text-anchor="middle" textLength="4.60" lengthAdjust="spacingAndGlyphs">40</text>
<line x1="235.6" y1="536" x2="235.6" y2="537.4" stroke="#999" stroke-width="0.5"/>
<text x="245.7" y="542.0" font-family="'Liberation Serif', serif" font-size="5.8" font-weight="normal" fill="#606060" text-anchor="middle" textLength="4.60" lengthAdjust="spacingAndGlyphs">42</text>
<line x1="245.7" y1="536" x2="245.7" y2="537.4" stroke="#999" stroke-width="0.5"/>
<text x="255.7" y="542.0" font-family="'Liberation Serif', serif" font-size="5.8" font-weight="normal" fill="#606060" text-anchor="middle" textLength="4.60" lengthAdjust="spacingAndGlyphs">44</text>
<line x1="255.7" y1="536" x2="255.7" y2="537.4" stroke="#999" stroke-width="0.5"/>
<text x="265.7" y="542.0" font-family="'Liberation Serif', serif" font-size="5.8" font-weight="normal" fill="#606060" text-anchor="middle" textLength="4.60" lengthAdjust="spacingAndGlyphs">46</text>
<line x1="265.7" y1="536" x2="265.7" y2="537.4" stroke="#999" stroke-width="0.5"/>
<text x="275.7" y="542.0" font-family="'Liberation Serif', serif" font-size="5.8" font-weight="normal" fill="#606060" text-anchor="middle" textLength="4.60" lengthAdjust="spacingAndGlyphs">48</text>
<line x1="275.7" y1="536" x2="275.7" y2="537.4" stroke="#999" stroke-width="0.5"/>
<text x="285.8" y="542.0" font-family="'Liberation Serif', serif" font-size="5.8" font-weight="normal" fill="#606060" text-anchor="middle" textLength="4.60" lengthAdjust="spacingAndGlyphs">50</text>
<line x1="285.8" y1="536" x2="285.8" y2="537.4" stroke="#999" stroke-width="0.5"/>
<text x="295.8" y="542.0" font-family="'Liberation Serif', serif" font-size="5.8" font-weight="normal" fill="#606060" text-anchor="middle" textLength="4.60" lengthAdjust="spacingAndGlyphs">52</text>
<line x1="295.8" y1="536" x2="295.8" y2="537.4" stroke="#999" stroke-width="0.5"/>
<text x="305.8" y="542.0" font-family="'Liberation Serif', serif" font-size="5.8" font-weight="normal" fill="#606060" text-anchor="middle" textLength="4.60" lengthAdjust="spacingAndGlyphs">54</text>
<line x1="305.8" y1="536" x2="305.8" y2="537.4" stroke="#999" stroke-width="0.5"/>
<text x="315.9" y="542.0" font-family="'Liberation Serif', serif" font-size="5.8" font-weight="normal" fill="#606060" text-anchor="middle" textLength="4.60" lengthAdjust="spacingAndGlyphs">56</text>
<line x1="315.9" y1="536" x2="315.9" y2="537.4" stroke="#999" stroke-width="0.5"/>
<text x="325.9" y="542.0" font-family="'Liberation Serif', serif" font-size="5.8" font-weight="normal" fill="#606060" text-anchor="middle" textLength="4.60" lengthAdjust="spacingAndGlyphs">58</text>
<line x1="325.9" y1="536" x2="325.9" y2="537.4" stroke="#999" stroke-width="0.5"/>
<text x="335.9" y="542.0" font-family="'Liberation Serif', serif" font-size="5.8" font-weight="normal" fill="#606060" text-anchor="middle" textLength="4.60" lengthAdjust="spacingAndGlyphs">60</text>
<line x1="335.9" y1="536" x2="335.9" y2="537.4" stroke="#999" stroke-width="0.5"/>
<text x="345.9" y="542.0" font-family="'Liberation Serif', serif" font-size="5.8" font-weight="normal" fill="#606060" text-anchor="middle" textLength="4.60" lengthAdjust="spacingAndGlyphs">62</text>
<line x1="345.9" y1="536" x2="345.9" y2="537.4" stroke="#999" stroke-width="0.5"/>
<text x="356.0" y="542.0" font-family="'Liberation Serif', serif" font-size="5.8" font-weight="normal" fill="#606060" text-anchor="middle" textLength="4.60" lengthAdjust="spacingAndGlyphs">64</text>
<line x1="356.0" y1="536" x2="356.0" y2="537.4" stroke="#999" stroke-width="0.5"/>
<text x="366.0" y="542.0" font-family="'Liberation Serif', serif" font-size="5.8" font-weight="normal" fill="#606060" text-anchor="middle" textLength="4.60" lengthAdjust="spacingAndGlyphs">66</text>
<line x1="366.0" y1="536" x2="366.0" y2="537.4" stroke="#999" stroke-width="0.5"/>
<text x="376.0" y="542.0" font-family="'Liberation Serif', serif" font-size="5.8" font-weight="normal" fill="#606060" text-anchor="middle" textLength="4.60" lengthAdjust="spacingAndGlyphs">68</text>
<line x1="376.0" y1="536" x2="376.0" y2="537.4" stroke="#999" stroke-width="0.5"/>
<text x="386.1" y="542.0" font-family="'Liberation Serif', serif" font-size="5.8" font-weight="normal" fill="#606060" text-anchor="middle" textLength="4.60" lengthAdjust="spacingAndGlyphs">70</text>
<line x1="386.1" y1="536" x2="386.1" y2="537.4" stroke="#999" stroke-width="0.5"/>
<text x="396.1" y="542.0" font-family="'Liberation Serif', serif" font-size="5.8" font-weight="normal" fill="#606060" text-anchor="middle" textLength="4.60" lengthAdjust="spacingAndGlyphs">72</text>
<line x1="396.1" y1="536" x2="396.1" y2="537.4" stroke="#999" stroke-width="0.5"/>
<text x="406.1" y="542.0" font-family="'Liberation Serif', serif" font-size="5.8" font-weight="normal" fill="#606060" text-anchor="middle" textLength="4.60" lengthAdjust="spacingAndGlyphs">74</text>
<line x1="406.1" y1="536" x2="406.1" y2="537.4" stroke="#999" stroke-width="0.5"/>
<text x="416.1" y="542.0" font-family="'Liberation Serif', serif" font-size="5.8" font-weight="normal" fill="#606060" text-anchor="middle" textLength="4.60" lengthAdjust="spacingAndGlyphs">76</text>
<line x1="416.1" y1="536" x2="416.1" y2="537.4" stroke="#999" stroke-width="0.5"/>
<text x="426.2" y="542.0" font-family="'Liberation Serif', serif" font-size="5.8" font-weight="normal" fill="#606060" text-anchor="middle" textLength="4.60" lengthAdjust="spacingAndGlyphs">78</text>
<line x1="426.2" y1="536" x2="426.2" y2="537.4" stroke="#999" stroke-width="0.5"/>
<text x="436.2" y="542.0" font-family="'Liberation Serif', serif" font-size="5.8" font-weight="normal" fill="#606060" text-anchor="middle" textLength="4.60" lengthAdjust="spacingAndGlyphs">80</text>
<line x1="436.2" y1="536" x2="436.2" y2="537.4" stroke="#999" stroke-width="0.5"/>
<text x="206.1" y="547.2" font-family="'Liberation Serif', serif" font-size="5.8" font-weight="normal" fill="#606060" text-anchor="start" textLength="65.6" lengthAdjust="spacingAndGlyphs">Counts (%) vs. Acquisition Time (min)</text>
<path d="M35.6,423.3 L443,423.3 L443,536" fill="none" stroke="#e6e6e6" stroke-width="0.8"/>
<line x1="34.6" y1="423.5" x2="34.6" y2="432" stroke="#e0e0e0" stroke-width="0.7"/><line x1="34.6" y1="432" x2="34.6" y2="534.5" stroke="#a8a8a8" stroke-width="0.8"/><line x1="36.2" y1="432.5" x2="36.2" y2="436.5" stroke="#c8c8c8" stroke-width="0.5"/>
<line x1="35" y1="535.8" x2="443" y2="535.8" stroke="#c8c8c8" stroke-width="0.8"/>
<line x1="50.7" y1="433" x2="50.7" y2="535" stroke="#8c8c8c" stroke-width="0.8"/>
<rect x="49.3" y="432.6" width="2.8" height="4.2" fill="none" stroke="#c4c4c4" stroke-width="0.5"/>
<path d="M217.50,524.40 L218.10,524.40 L218.20,523.53 L218.60,522.74 L219,521.25 L219.50,517.47 L219.90,511.50 L220.20,503.98 L220.50,492.36 L221,459.50 L221.50,492.36 L221.80,503.98 L222.10,511.50 L222.50,517.47 L223,521.25 L223.40,522.74 L223.80,523.53 L223.90,524.40 L224.50,524.40 L224.5,524.4 L217.5,524.4 Z" fill="#8ccc8c" stroke="none"/>
<path d="M200,524.40 L204.90,524.40 L205.60,524.31 L206,524.10 L206.40,523.46 L206.70,522.33 L207.30,517.60 L207.70,521.08 L208,522.79 L208.40,523.84 L208.80,524.15 L209.10,524.12 L209.40,523.84 L209.80,522.79 L210.10,521.08 L210.50,517.60 L210.90,521.08 L211.20,522.79 L211.60,523.86 L211.90,524.18 L212.30,524.34 L212.90,524.40 L230.50,524.40 L231.40,524.32 L232,524.01 L232.50,523.15 L232.80,522.06 L233.30,519.30 L234,522.85 L234.30,523.60 L234.70,524.10 L235.10,524.29 L235.70,524.38 L240,524.40" fill="none" stroke="#6a6a6a" stroke-width="0.8"/>
<path d="M215.50,524.40 L218.10,524.40 L218.20,523.53 L218.60,522.74 L219,521.25 L219.30,519.34 L219.60,516.30 L220,509.35 L220.40,496.80 L221,459.50 L221.60,496.80 L222,509.35 L222.40,516.30 L222.70,519.34 L223,521.25 L223.40,522.74 L223.80,523.53 L223.90,524.40 L226.50,524.40" fill="none" stroke="#4f8a55" stroke-width="0.85"/>
<path d="M233,524.40 L233.40,524.40 L233.50,523.30 L234.10,521.89 L234.60,519.44 L235.10,514.65 L235.50,507.79 L235.90,496.34 L236.20,483.13 L236.80,439 L237.40,483.13 L237.70,496.34 L238.10,507.79 L238.50,514.65 L239,519.44 L239.50,521.89 L240.10,523.30 L240.20,524.40 L240.50,524.40 L240.5,524.4 L233,524.4 Z" fill="#a2cdf4" stroke="none"/>
<path d="M225,524.40 L233.40,524.40 L233.50,523.30 L233.90,522.49 L234.20,521.52 L234.70,518.71 L235.10,514.65 L235.40,509.85 L235.90,496.34 L236.40,471.29 L236.80,439 L237.20,471.29 L237.70,496.34 L238.30,511.67 L238.60,515.88 L239,519.44 L239.50,521.89 L240.10,523.30 L240.20,524.40 L250,524.40" fill="none" stroke="#7ab4ec" stroke-width="0.8"/>
<path d="M245,524.40 L251.60,524.40 L251.70,523.83 L252,523.45 L252.30,522.82 L252.70,521.31 L253,519.31 L253.30,516.05 L253.70,508.44 L254.10,494.47 L254.40,478 L254.70,494.47 L255.10,508.44 L255.60,517.32 L255.90,520.09 L256.20,521.79 L256.60,523.07 L257.10,523.83 L257.20,524.40 L265,524.40" fill="none" stroke="#555" stroke-width="0.9"/>
<path d="M380.50,524.40 L381.40,524.40 L381.50,523.24 L382,522.20 L382.40,520.73 L383,516.55 L383.50,509.75 L383.90,500.44 L384.30,485.57 L385,438.40 L385.70,485.57 L386.10,500.44 L386.50,509.75 L387,516.55 L387.60,520.73 L388,522.20 L388.50,523.24 L388.60,524.40 L389.50,524.40 L389.5,524.4 L380.5,524.4 Z" fill="#f6b4b4" stroke="none"/>
<path d="M375,524.40 L381.40,524.40 L381.50,523.24 L382,522.20 L382.40,520.73 L382.90,517.48 L383.30,512.98 L383.60,507.82 L384.10,493.86 L384.60,469.11 L385,438.40 L385.40,469.11 L385.90,493.86 L386.40,507.82 L386.70,512.98 L387.10,517.48 L387.60,520.73 L388,522.20 L388.50,523.24 L388.60,524.40 L395,524.40" fill="none" stroke="#e06a6a" stroke-width="0.9"/>
<path d="M385,524.40 L392.10,524.40 L392.20,523.33 L392.60,522.54 L392.90,521.60 L393.40,518.86 L393.80,514.90 L394.10,510.23 L394.60,497.06 L395.10,472.66 L395.50,441.20 L395.90,472.66 L396.40,497.06 L396.90,510.23 L397.20,514.90 L397.60,518.86 L398.10,521.60 L398.40,522.54 L398.80,523.33 L398.90,524.40 L406,524.40" fill="none" stroke="#5c6066" stroke-width="0.8"/>
<path d="M35,524.39 L35.50,524.50 L35.75,524.39 L36.25,524.42 L36.50,524.32 L37.25,524.47 L37.50,524.30 L38,524.30 L38.25,524.47 L38.50,524.45 L38.75,524.29 L39,524.52 L40.25,524.28 L40.50,524.41 L40.75,524.29 L41.50,524.29 L42.25,524.48 L43.75,524.35 L44,524.52 L44.25,524.52 L45.75,524.30 L46,524.46 L46.25,524.38 L46.50,524.48 L46.75,524.37 L47,524.51 L47.25,524.48 L47.50,524.28 L48,524.50 L48.25,524.39 L48.50,524.52 L49,524.30 L49.50,524.47 L50,524.30 L50.50,524.51 L51,524.31 L51.75,524.29 L52,524.47 L52.25,524.32 L52.50,524.41 L53,524.33 L53.25,524.46 L53.50,524.31 L53.75,524.43 L54,524.31 L54.25,524.38 L54.75,524.34 L55,524.51 L55.50,524.35 L55.75,524.49 L56,524.33 L56.50,524.49 L57,524.30 L57.25,524.52 L57.50,524.33 L58,524.47 L58.75,524.30 L59.25,524.42 L59.50,524.34 L59.75,524.42 L60.25,524.39 L60.50,524.51 L60.75,524.40 L61.25,524.49 L61.50,524.32 L61.75,524.32 L62,524.50 L62.75,524.33 L63.25,524.51 L63.50,524.33 L63.75,524.51 L65,524.29 L65.25,524.51 L65.50,524.34 L65.75,524.45 L66,524.34 L66.25,524.48 L67,524.32 L67.25,524.45 L67.50,524.30 L68.25,524.48 L68.75,524.35 L69,524.50 L69.50,524.28 L71,524.42 L71.25,524.31 L72,524.52 L73.50,524.28 L73.75,524.50 L74.25,524.51 L74.50,524.29 L74.75,524.43 L75.25,524.46 L75.50,524.36 L75.75,524.52 L76,524.30 L76.75,524.50 L77.75,524.50 L78,524.36 L78.50,524.50 L79,524.38 L79.50,524.49 L80.25,524.37 L80.75,524.43 L81,524.30 L81.50,524.52 L82.25,524.37 L82.50,524.46 L83,524.39 L83.25,524.48 L83.50,524.30 L83.75,524.46 L84,524.29 L84.25,524.42 L84.75,524.34 L85,524.45 L85.25,524.40 L85.75,524.50 L86.25,524.28 L86.75,524.44 L87.25,524.32 L87.50,524.50 L88,524.39 L88.25,524.49 L88.50,524.36 L88.75,524.44 L89,524.33 L89.50,524.47 L90,524.49 L90.25,524.37 L90.50,524.42 L91,524.31 L91.50,524.48 L92.25,524.51 L92.50,524.35 L92.75,524.32 L94,524.43 L94.50,524.36 L95,524.52 L95.50,524.30 L95.75,524.29 L96,524.49 L96.25,524.29 L96.50,524.45 L97,524.35 L97.25,524.47 L97.50,524.28 L98,524.39 L98.25,524.29 L98.50,524.48 L98.75,524.34 L99.25,524.29 L99.50,524.43 L100.75,524.51 L101.25,524.33 L101.50,524.39 L102,524.28 L102.50,524.45 L102.75,524.32 L103.50,524.45 L104.25,524.46 L104.50,524.37 L105,524.50 L105.25,524.30 L105.50,524.50 L106,524.31 L106.75,524.50 L107,524.37 L108,524.51 L108.75,524.33 L109.25,524.48 L109.75,524.45 L110,524.33 L110.25,524.50 L110.50,524.52 L111,524.41 L111.25,524.47 L111.50,524.36 L111.75,524.50 L112,524.49 L112.50,524.30 L113.25,524.46 L113.75,524.29 L114,524.47 L114.25,524.30 L114.50,524.47 L114.75,524.32 L115.25,524.47 L115.50,524.31 L115.75,524.32 L116.50,524.48 L117,524.51 L117.25,524.40 L117.50,524.51 L117.75,524.30 L119.50,524.48 L120,524.35 L120.75,524.50 L121,524.33 L121.50,524.51 L122.25,524.33 L123,524.43 L123.25,524.29 L123.50,524.51 L124,524.38 L124.25,524.47 L125,524.45 L125.25,524.30 L126,524.51 L126.25,524.50 L126.50,524.34 L126.75,524.39 L127,524.31 L127.75,524.50 L128.50,524.33 L129,524.50 L129.25,524.31 L129.50,524.47 L129.75,524.29 L130.50,524.44 L130.75,524.36 L131.25,524.43 L131.50,524.31 L131.75,524.46 L132,524.31 L132.25,524.40 L132.75,524.33 L133,524.41 L134,524.41 L134.25,524.32 L135.50,524.48 L136,524.49 L136.25,524.34 L136.50,524.46 L137,524.50 L137.25,524.36 L137.50,524.36 L137.75,524.50 L138,524.33 L138.25,524.52 L138.50,524.49 L138.75,524.31 L139.25,524.45 L139.75,524.30 L140,524.48 L140.25,524.38 L140.50,524.47 L140.75,524.31 L141.25,524.44 L141.50,524.28 L142.50,524.51 L142.75,524.31 L143.25,524.46 L144.75,524.29 L145,524.41 L146.25,524.33 L146.75,524.52 L147,524.50 L147.25,524.30 L147.50,524.29 L147.75,524.51 L148,524.39 L148.25,524.46 L148.50,524.36 L149.50,524.42 L149.75,524.28 L150,524.45 L150.25,524.48 L150.50,524.32 L151,524.46 L151.50,524.33 L152,524.40 L152.25,524.28 L152.50,524.49 L153.25,524.49 L153.75,524.38 L154.25,524.40 L154.50,524.52 L155,524.34 L155.25,524.50 L156,524.47 L156.50,524.37 L156.75,523.76 L157.30,518.06 L157.75,523.12 L158,524.03 L158.25,524.33 L158.50,524.39 L158.75,524.28 L159.25,524.43 L159.75,524.34 L160,524.51 L160.50,524.36 L160.75,524.44 L161.50,524.37 L161.75,524.52 L162,524.43 L162.75,524.52 L163,524.29 L163.50,524.46 L163.75,524.34 L165,524.30 L165.50,524.50 L166,524.40 L166.25,524.51 L166.50,524.42 L166.75,524.52 L167,524.43 L167.25,524.47 L167.50,524.30 L168,524.46 L168.25,524.29 L168.50,524.50 L168.75,524.32 L169.75,524.43 L170,524.29 L170.25,524.51 L170.50,524.38 L171.50,524.35 L171.75,524.44 L172.25,524.35 L172.50,524.45 L173,524.28 L173.75,524.32 L174,524.46 L174.25,524.37 L174.50,524.50 L174.75,524.46 L175,524.29 L175.25,524.52 L175.50,524.51 L175.75,524.30 L176,524.50 L176.25,524.38 L176.75,524.51 L177,524.34 L177.50,524.50 L178,524.39 L178.25,524.51 L179,524.31 L179.25,524.43 L180,524.29 L180.25,524.41 L180.50,524.31 L181,524.44 L181.50,524.34 L182.25,524.47 L182.50,524.41 L182.75,524.52 L183.75,524.31 L184,524.49 L185,524.35 L185.25,524.44 L186.25,524.46 L186.50,524.33 L186.75,524.34 L187,524.52 L187.50,524.49 L187.75,524.29 L188.75,524.43 L189,524.30 L189.25,524.41 L189.75,524.30 L190,524.44 L191.25,524.33 L192,524.48 L192.25,524.30 L192.50,524.31 L192.75,524.47 L193.25,524.46 L193.50,524.33 L194,524.34 L194.25,524.47 L194.50,524.37 L195,524.52 L195.25,524.36 L196,524.50 L196.75,524.30 L197,524.49 L197.25,524.30 L198.25,524.44 L198.50,524.35 L198.75,524.47 L199,524.30 L199.50,524.44 L199.75,524.30 L200.25,524.45 L201,524.31 L201.50,524.45 L202,524.31 L202.25,524.45 L203,524.51 L203.50,524.39 L203.75,524.47 L204,524.35 L204.50,524.38 L204.75,524.50 L205,524.49 L205.25,524.34 L206.75,524.33 L207.25,524.47 L207.50,524.41 L207.75,524.48 L208.25,524.32 L208.75,524.49 L209.25,524.29 L209.50,524.40 L210.25,524.51 L210.75,524.47 L211,524.30 L211.50,524.47 L211.75,524.30 L212,524.30 L212.50,524.50 L212.75,524.30 L213,524.43 L213.25,524.31 L213.50,524.46 L214,524.34 L214.25,524.33 L214.50,524.46 L215.50,524.36 L215.75,524.51 L216.25,524.40 L217.25,524.50 L217.50,524.38 L217.75,524.48 L219.25,524.51 L219.75,524.41 L220.25,524.47 L221,524.32 L221.50,524.52 L222,524.32 L222.75,524.35 L223,524.51 L223.25,524.29 L223.75,524.31 L224.25,524.47 L224.75,524.29 L225.50,524.50 L225.75,524.29 L226.75,524.34 L227,524.45 L227.50,524.33 L228.25,524.32 L228.50,524.46 L228.75,524.35 L229.25,524.48 L229.75,524.34 L230,524.49 L230.25,524.50 L230.50,524.36 L231,524.51 L231.75,524.29 L232,524.51 L232.50,524.37 L233.25,524.35 L233.50,524.52 L234.25,524.28 L235,524.47 L236,524.32 L236.50,524.34 L236.75,524.49 L237,524.40 L237.50,524.52 L237.75,524.34 L238,524.41 L238.25,524.32 L238.50,524.46 L238.75,524.28 L239,524.48 L239.50,524.48 L239.75,524.30 L240.25,524.45 L240.50,524.30 L241.25,524.51 L241.50,524.42 L241.75,524.49 L242,524.35 L242.25,524.47 L242.50,524.38 L242.75,524.50 L243,524.30 L243.25,524.48 L243.50,524.33 L243.75,524.41 L244.25,524.32 L244.50,524.48 L245,524.32 L245.25,524.13 L245.50,523.61 L245.75,521.91 L246.30,513.54 L246.75,519.64 L247,519.95 L247.50,513.08 L248,521.08 L248.25,523.36 L248.50,524.20 L249,524.41 L249.50,524.28 L249.75,524.52 L250.25,524.33 L250.50,524.43 L251.50,524.35 L252.25,524.44 L252.75,524.33 L253,524.46 L253.25,524.36 L253.50,524.51 L254.25,524.36 L254.50,524.48 L254.75,524.30 L255.25,524.30 L255.50,524.44 L255.75,524.45 L256,524.32 L256.50,524.48 L257,524.30 L258,524.38 L258.25,524.30 L258.50,524.50 L258.75,524.38 L259.75,524.48 L260.75,524.28 L261.50,524.52 L262.25,524.43 L262.50,524.28 L263.25,524.44 L263.50,524.31 L264.50,524.48 L265,524.32 L265.50,524.50 L266.50,524.31 L267,524.52 L267.25,524.40 L267.75,524.48 L268,524.33 L268.25,524.51 L269,524.30 L269.75,524.45 L270,524.36 L270.25,524.50 L270.50,524.37 L271,524.31 L271.25,524.51 L271.50,524.31 L271.75,524.50 L272.75,524.34 L273,524.50 L273.25,524.52 L274,524.31 L274.25,524.48 L274.50,524.35 L274.75,524.50 L275,524.34 L275.50,524.48 L275.75,524.32 L276,524.41 L276.50,524.29 L276.75,524.32 L277,524.52 L277.75,524.35 L278,524.44 L278.50,524.37 L279,524.47 L279.25,524.28 L279.75,524.39 L280,524.31 L280.50,524.42 L280.75,524.32 L281,524.40 L281.25,524.34 L282,524.43 L282.25,524.29 L282.50,524.44 L282.75,524.31 L283,524.51 L283.50,524.39 L284.50,524.46 L285,524.40 L285.25,524.52 L286,524.38 L286.75,524.50 L287.50,524.38 L287.75,524.50 L288.25,524.29 L288.75,524.50 L289.50,524.46 L289.75,524.35 L290,524.42 L290.25,524.30 L291,524.40 L291.50,524.29 L291.75,524.45 L293.25,524.30 L293.50,524.50 L294.25,524.49 L294.50,524.38 L294.75,524.47 L295,524.33 L295.25,524.46 L295.50,524.42 L295.75,524.50 L296,524.30 L296.25,524.47 L296.50,524.31 L297,524.51 L297.25,524.28 L298,524.36 L298.25,524.30 L298.50,524.49 L299,524.38 L299.50,524.42 L299.75,524.29 L300,524.29 L300.25,524.50 L300.50,524.35 L301.25,524.51 L301.75,524.33 L302,524.35 L302.25,524.50 L302.50,524.50 L302.75,524.33 L303,524.48 L303.25,524.36 L303.75,524.32 L304,524.49 L304.25,524.52 L304.50,524.33 L304.75,524.43 L305,524.33 L305.25,524.49 L305.50,524.29 L305.75,524.31 L306,524.45 L306.25,524.36 L306.50,524.50 L307,524.45 L307.25,524.31 L307.75,524.51 L308.25,524.30 L309,524.45 L309.50,524.32 L310.25,524.47 L310.50,524.37 L311,524.49 L311.50,524.33 L311.75,524.35 L312,524.50 L312.50,524.35 L312.75,524.43 L313,524.30 L313.25,524.52 L313.50,524.39 L314,524.41 L314.25,524.29 L314.50,524.42 L315,524.34 L315.25,524.47 L315.50,524.30 L316,524.46 L316.25,524.34 L316.75,524.41 L317,524.32 L317.25,524.50 L317.50,524.52 L317.75,524.29 L318.25,524.46 L318.50,524.37 L318.75,524.50 L319.25,524.32 L319.50,524.41 L320,524.37 L320.50,524.47 L321.75,524.40 L322,524.51 L322.25,524.32 L322.50,524.47 L322.75,524.32 L323,524.43 L323.25,524.34 L323.75,524.47 L324.25,524.47 L324.50,524.34 L325.25,524.42 L325.75,524.29 L326,524.42 L326.75,524.49 L327,524.32 L327.50,524.28 L327.75,524.40 L328.50,524.34 L328.75,524.47 L329,524.30 L329.25,524.50 L329.50,524.42 L330,524.47 L330.25,524.34 L331,524.29 L331.50,524.43 L332,524.34 L332.25,524.42 L332.50,524.30 L332.75,524.48 L333,524.32 L333.50,524.32 L334,524.48 L334.25,524.47 L334.50,524.29 L334.75,524.38 L335.25,524.33 L335.50,524.51 L335.75,524.29 L336.50,524.52 L336.75,524.31 L337.25,524.46 L337.50,524.29 L338,524.49 L338.25,524.31 L339,524.38 L339.50,524.29 L339.75,524.52 L340.50,524.34 L341,524.41 L341.25,524.34 L341.75,524.50 L342,524.37 L342.25,524.36 L342.50,524.52 L343,524.29 L343.50,524.44 L343.75,524.29 L344.50,524.49 L344.75,524.42 L345,524.49 L345.25,524.39 L345.50,524.37 L345.75,524.48 L346,524.37 L346.25,524.47 L346.50,524.33 L347,524.32 L347.25,524.41 L347.50,524.32 L348.50,524.35 L349,524.52 L349.50,524.49 L349.75,524.33 L350.25,524.30 L350.50,524.45 L351.25,524.28 L352,524.37 L352.25,524.50 L352.75,524.34 L353.25,524.32 L353.50,524.50 L353.75,524.37 L354.50,524.50 L354.75,524.28 L355.25,524.37 L355.50,524.30 L355.75,524.49 L356,524.36 L356.25,524.46 L356.75,524.29 L357,524.37 L357.50,524.29 L358,524.42 L358.25,524.29 L359,524.41 L359.25,524.31 L359.50,524.45 L359.75,524.34 L360,524.45 L360.50,524.32 L361.25,524.45 L361.75,524.37 L362,524.49 L362.25,524.33 L363.50,524.29 L363.75,524.43 L364.50,524.51 L364.75,524.35 L365.25,524.50 L365.50,524.33 L366.25,524.51 L366.50,524.49 L366.75,524.34 L367,524.43 L367.25,524.30 L367.50,524.38 L368,524.29 L368.75,524.40 L370,524.32 L370.25,524.44 L370.75,524.30 L371.25,524.38 L371.50,524.32 L371.75,524.42 L372.50,524.45 L372.75,524.29 L373,524.37 L373.50,524.30 L373.75,524.38 L374,524.29 L374.50,524.42 L375.50,524.29 L376,524.49 L376.50,524.34 L376.75,524.44 L377,524.32 L377.75,524.51 L378,524.37 L378.50,524.51 L380,524.35 L380.25,524.48 L380.50,524.49 L380.75,524.37 L381,524.50 L381.25,524.29 L381.75,524.40 L382.25,524.37 L382.50,524.51 L382.75,524.32 L383.25,524.33 L383.50,524.44 L384,524.28 L384.25,524.41 L384.75,524.34 L386.50,524.51 L386.75,524.36 L387,524.36 L387.25,524.49 L387.50,524.36 L388.50,524.51 L389,524.32 L389.25,524.43 L390.25,524.35 L390.50,524.46 L391,524.34 L391.75,524.32 L392,524.40 L392.50,524.30 L393,524.30 L393.25,524.45 L393.50,524.31 L394,524.47 L394.50,524.32 L394.75,524.49 L395,524.49 L395.25,524.29 L396,524.47 L396.25,524.37 L396.50,524.45 L396.75,524.34 L397,524.45 L397.50,524.36 L398,524.48 L398.75,524.38 L399.50,524.48 L399.75,524.47 L400,524.31 L400.50,524.44 L401.25,524.28 L401.75,524.51 L402,524.51 L402.25,524.31 L402.50,524.45 L403.25,524.38 L403.75,524.52 L404,524.29 L404.25,524.45 L404.75,524.29 L405.50,524.52 L405.75,524.31 L406,524.36 L406.25,524.29 L406.50,524.41 L407.25,524.35 L407.75,524.48 L408,524.35 L409,524.52 L409.25,524.37 L410,524.47 L410.25,524.32 L410.75,524.31 L411,524.50 L411.25,524.34 L411.50,524.40 L412.25,524.28 L412.50,524.41 L412.75,524.31 L413,524.41 L413.75,523.92 L414,523.29 L414.25,522.21 L414.75,519.48 L415,520.20 L415.50,522.88 L415.75,523.73 L416,524.25 L416.25,524.23 L416.50,524.46 L417,524.38 L417.25,524.47 L417.75,524.29 L418,524.41 L418.50,524.43 L418.75,524.35 L419,524.51 L419.50,524.52 L419.75,524.39 L420,524.48 L420.75,524.29 L421.50,524.30 L422,524.46 L422.75,524.28 L423,524.33 L423.25,524.51 L423.50,524.28 L424,524.47 L424.75,524.38 L425,524.47 L425.75,524.52 L426,524.30 L426.25,524.51 L426.50,524.38 L426.75,524.45 L427,524.34 L427.25,524.50 L427.50,524.29 L427.75,524.42 L428,524.33 L429,524.47 L429.25,524.37 L429.50,524.43 L430,524.35 L430.25,524.50 L430.75,524.30 L431.25,524.46 L431.50,524.33 L431.75,524.46 L432.25,524.44 L432.75,524.31 L433.50,524.38 L433.75,524.28 L434,524.40 L434.50,524.36 L435,524.51 L435.25,524.33 L435.50,524.49 L435.75,524.36 L436,524.46 L436.25,524.31 L436.50,524.52 L436.75,524.38 L437,524.51 L437.25,524.33 L437.75,524.45 L438,524.32 L438.75,524.51 L439.25,524.32 L439.75,524.52 L440,524.32 L440.25,524.43 L440.50,524.37 L440.75,524.43 L441,524.33 L441.50,524.49 L442.50,524.42 L442.75,524.31 L443,524.48" fill="none" stroke="#d46a74" stroke-width="1.1"/>
<text x="218.5" y="453.7" font-family="'Liberation Sans', sans-serif" font-size="9" font-weight="bold" fill="#000" text-anchor="middle">3</text>
<text x="235.3" y="436.9" font-family="'Liberation Sans', sans-serif" font-size="9" font-weight="bold" fill="#000" text-anchor="middle">4</text>
<text x="253.4" y="473.7" font-family="'Liberation Sans', sans-serif" font-size="9" font-weight="bold" fill="#000" text-anchor="middle">6</text>
<text x="383.4" y="438.0" font-family="'Liberation Sans', sans-serif" font-size="9" font-weight="bold" fill="#000" text-anchor="middle">7</text>
<text x="295.1" y="452.9" font-family="'Liberation Sans', sans-serif" font-size="11" font-weight="bold" fill="#000" text-anchor="start" textLength="52.7" lengthAdjust="spacingAndGlyphs">(–)-ESI-MS</text>
</svg>
</body></html>
